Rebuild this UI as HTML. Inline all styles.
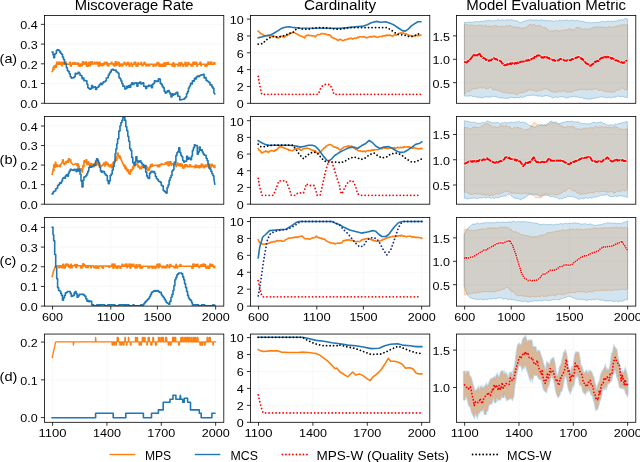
<!DOCTYPE html><html><head><meta charset="utf-8"><style>html,body{margin:0;padding:0;background:#fff;}svg{display:block;will-change:transform;}text{font-family:"Liberation Sans",sans-serif;fill:#000;}</style></head><body>
<svg width="640" height="462" viewBox="0 0 640 462">
<rect width="640" height="462" fill="#fff"/>
<defs><clipPath id="cp00"><rect x="44.40" y="15.45" width="179.40" height="87.85"/></clipPath></defs>
<line x1="44.40" x2="223.80" y1="103.25" y2="103.25" stroke="#f0f0f0" stroke-width="0.8" stroke-dasharray="1.2,0.8"/>
<line x1="44.40" x2="223.80" y1="83.53" y2="83.53" stroke="#f0f0f0" stroke-width="0.8" stroke-dasharray="1.2,0.8"/>
<line x1="44.40" x2="223.80" y1="63.80" y2="63.80" stroke="#f0f0f0" stroke-width="0.8" stroke-dasharray="1.2,0.8"/>
<line x1="44.40" x2="223.80" y1="44.08" y2="44.08" stroke="#f0f0f0" stroke-width="0.8" stroke-dasharray="1.2,0.8"/>
<line x1="44.40" x2="223.80" y1="24.36" y2="24.36" stroke="#f0f0f0" stroke-width="0.8" stroke-dasharray="1.2,0.8"/>
<g clip-path="url(#cp00)">
<polyline fill="none" stroke="#ff7f0e" stroke-width="1.6" stroke-linejoin="round" stroke-linecap="square" points="52.2,71.5 53.0,69.6 53.1,67.6 53.8,67.6 53.9,69.6 53.9,67.7 53.9,66.0 54.7,66.0 54.7,67.7 54.7,65.8 55.7,65.0 55.7,67.1 56.5,67.1 56.5,65.0 56.7,64.3 56.7,62.3 57.5,62.3 57.5,64.3 57.7,64.3 58.6,64.2 58.7,62.1 59.1,62.1 59.2,64.2 59.6,64.2 59.7,62.9 60.4,62.9 60.5,64.2 60.6,64.2 60.7,62.3 61.6,62.3 61.7,64.2 61.6,64.2 61.7,66.0 62.1,66.0 62.2,64.2 62.6,64.2 62.7,62.2 63.4,62.2 63.5,64.2 63.6,64.2 64.6,64.2 64.6,62.1 65.1,62.1 65.1,64.2 65.6,64.2 65.6,62.1 66.1,62.1 66.1,64.2 66.6,64.2 67.6,64.2 68.6,64.2 69.6,64.2 69.6,62.4 70.6,62.4 70.6,64.2 70.5,64.2 70.6,66.3 71.3,66.3 71.4,64.2 71.5,64.2 72.5,64.1 72.6,62.8 73.0,62.8 73.1,64.1 73.5,64.1 74.5,64.1 74.6,62.5 75.5,62.5 75.6,64.1 75.5,64.1 76.5,64.1 77.5,64.1 77.5,62.7 78.0,62.7 78.0,64.1 78.5,64.1 78.5,65.9 79.0,65.9 79.0,64.1 79.5,64.1 79.5,66.2 80.5,66.2 80.5,64.1 80.5,64.1 80.5,65.6 81.5,65.6 81.5,64.1 81.4,64.1 81.5,65.6 82.4,65.6 82.5,64.1 82.4,64.1 82.5,61.9 83.4,61.9 83.5,64.1 83.4,64.1 83.5,62.2 84.4,62.2 84.5,64.1 84.4,64.1 85.4,64.1 85.5,62.0 86.4,62.0 86.5,64.1 86.4,64.1 86.5,66.1 86.9,66.1 87.0,64.1 87.4,64.0 87.4,66.1 88.4,66.1 88.4,64.0 88.4,64.0 88.4,62.4 89.2,62.4 89.2,64.0 89.4,64.0 89.4,65.8 90.4,65.8 90.4,64.0 90.4,64.0 90.4,62.0 91.4,62.0 91.4,64.0 91.4,64.0 91.4,61.9 92.4,61.9 92.4,64.0 92.4,64.0 93.3,64.0 94.3,64.0 94.4,62.1 94.8,62.1 94.9,64.0 95.3,64.0 96.3,64.0 96.4,62.4 97.1,62.4 97.2,64.0 97.3,64.0 97.4,62.4 97.8,62.4 97.9,64.0 98.3,64.0 98.4,66.1 99.3,66.1 99.4,64.0 99.3,64.0 99.3,62.2 100.1,62.2 100.1,64.0 100.3,64.0 100.3,65.5 101.1,65.5 101.1,64.0 101.3,63.9 101.3,65.4 102.3,65.4 102.3,63.9 102.3,63.9 102.3,65.8 102.8,65.8 102.8,63.9 103.3,63.9 103.3,65.3 103.8,65.3 103.8,63.9 104.3,63.9 104.3,62.2 104.8,62.2 104.8,63.9 105.2,63.9 106.2,63.9 106.3,62.2 107.2,62.2 107.3,63.9 107.2,63.9 107.3,65.7 108.0,65.7 108.1,63.9 108.2,63.9 108.3,65.9 108.7,65.9 108.8,63.9 109.2,63.9 110.2,63.9 111.2,63.9 111.2,62.3 112.0,62.3 112.0,63.9 112.2,63.9 113.2,63.9 113.2,65.2 113.7,65.2 113.7,63.9 114.2,63.9 114.2,66.0 115.0,66.0 115.0,63.9 115.2,63.9 115.2,61.7 116.2,61.7 116.2,63.9 116.1,63.9 116.2,65.4 116.6,65.4 116.7,63.9 117.1,64.0 117.2,62.3 117.6,62.3 117.7,64.0 118.1,64.0 118.2,62.3 119.1,62.3 119.2,64.0 119.1,64.0 119.2,66.1 119.9,66.1 120.0,64.0 120.1,64.0 120.2,65.6 121.1,65.6 121.2,64.0 121.1,64.0 122.1,64.0 122.1,66.0 122.9,66.0 122.9,64.0 123.1,64.1 124.1,64.1 124.1,62.2 124.9,62.2 124.9,64.1 125.1,64.1 126.1,64.1 126.1,65.5 126.6,65.5 126.6,64.1 127.1,64.1 127.1,62.6 127.9,62.6 127.9,64.1 128.0,64.2 128.1,62.5 128.8,62.5 128.9,64.2 129.0,64.2 129.1,66.3 130.0,66.3 130.1,64.2 130.0,64.2 131.0,64.2 131.1,62.8 131.5,62.8 131.6,64.2 132.0,64.2 132.1,66.4 132.5,66.4 132.6,64.2 133.0,64.2 134.0,64.3 134.1,62.3 134.8,62.3 134.9,64.3 135.0,64.3 135.0,62.4 135.8,62.4 135.8,64.3 136.0,64.3 136.0,66.0 136.5,66.0 136.5,64.3 137.0,64.3 137.0,66.3 137.8,66.3 137.8,64.3 138.0,64.3 138.0,62.9 138.5,62.9 138.5,64.3 139.0,64.3 140.0,64.3 141.0,64.3 141.0,62.4 141.5,62.4 141.5,64.3 142.0,64.3 142.0,65.8 143.0,65.8 143.0,64.3 143.0,64.3 144.0,64.3 144.0,62.2 145.0,62.2 145.0,64.3 145.0,64.3 146.0,64.3 146.0,66.0 146.5,66.0 146.5,64.3 147.0,64.3 147.0,65.6 147.8,65.6 147.8,64.3 148.0,64.3 149.0,64.3 149.0,65.9 149.5,65.9 149.5,64.3 150.0,64.3 151.0,64.3 152.0,64.3 153.0,64.3 153.0,66.1 154.0,66.1 154.0,64.3 154.0,64.3 155.0,64.3 155.0,65.7 155.5,65.7 155.5,64.3 156.0,64.3 156.0,65.7 156.8,65.7 156.8,64.3 157.0,64.3 157.0,62.9 158.0,62.9 158.0,64.3 158.0,64.3 158.0,62.6 158.8,62.6 158.8,64.3 159.0,64.3 159.0,66.3 160.0,66.3 160.0,64.3 159.9,64.3 160.9,64.3 161.0,66.1 161.9,66.1 162.0,64.3 161.9,64.3 162.9,64.3 163.0,66.3 163.7,66.3 163.8,64.3 163.9,64.3 164.0,62.9 164.4,62.9 164.5,64.3 164.9,64.3 165.0,66.2 165.7,66.2 165.8,64.3 165.9,64.3 166.0,62.8 166.9,62.8 167.0,64.3 166.9,64.3 167.9,64.3 168.0,62.4 168.4,62.4 168.5,64.3 168.9,64.3 169.9,64.3 170.9,64.3 171.9,64.3 172.0,66.0 172.9,66.0 173.0,64.3 172.9,64.3 173.0,62.8 173.9,62.8 174.0,64.3 173.9,64.3 174.0,66.4 174.9,66.4 175.0,64.3 174.9,64.3 175.9,64.3 176.9,64.3 177.9,64.3 178.0,66.0 178.4,66.0 178.5,64.3 178.9,64.3 179.0,62.7 179.4,62.7 179.5,64.3 179.9,64.3 180.0,66.0 180.7,66.0 180.8,64.3 180.9,64.3 181.0,62.5 181.7,62.5 181.8,64.3 181.9,64.3 182.9,64.3 183.0,66.3 183.7,66.3 183.8,64.3 183.9,64.3 184.9,64.3 185.0,62.4 185.9,62.4 186.0,64.3 185.9,64.3 185.9,66.3 186.7,66.3 186.7,64.3 186.9,64.3 186.9,65.7 187.7,65.7 187.7,64.3 187.9,64.3 187.9,62.5 188.9,62.5 188.9,64.3 188.9,64.3 189.9,64.3 190.9,64.3 190.9,65.9 191.9,65.9 191.9,64.3 191.9,64.3 191.9,65.9 192.9,65.9 192.9,64.3 192.9,64.3 192.9,62.4 193.9,62.4 193.9,64.3 193.9,64.3 193.9,62.3 194.9,62.3 194.9,64.3 194.9,64.3 195.9,64.3 195.9,62.2 196.7,62.2 196.7,64.3 196.9,64.3 196.9,66.1 197.4,66.1 197.4,64.3 197.9,64.3 198.9,64.3 199.9,64.3 199.9,62.2 200.9,62.2 200.9,64.3 200.9,64.3 200.9,65.8 201.4,65.8 201.4,64.3 201.9,64.3 202.9,64.3 203.9,64.3 204.9,64.3 204.9,66.1 205.7,66.1 205.7,64.3 205.9,64.3 205.9,66.2 206.4,66.2 206.4,64.3 206.9,64.3 206.9,65.8 207.4,65.8 207.4,64.3 207.9,64.3 207.9,62.1 208.4,62.1 208.4,64.3 208.9,64.3 209.9,64.3 209.9,62.3 210.4,62.3 210.4,64.3 210.9,64.3 210.9,62.1 211.7,62.1 211.7,64.3 211.8,64.3 212.8,64.3 213.8,64.3 213.9,62.6 214.8,62.6 214.9,64.3 214.8,64.3"/>
<polyline fill="none" stroke="#1f77b4" stroke-width="1.6" stroke-linejoin="round" stroke-linecap="square" points="52.2,52.0 53.0,52.0 53.0,54.7 53.7,54.7 53.7,57.7 54.6,57.7 54.6,54.1 55.5,54.1 55.5,53.5 56.4,53.5 56.4,50.6 57.2,50.6 57.2,49.8 58.4,49.8 58.4,50.3 59.6,50.3 59.6,51.9 60.6,51.9 60.6,53.3 61.5,53.3 61.5,54.3 62.5,54.3 62.5,57.1 63.5,57.1 63.5,59.5 64.5,59.5 64.5,63.4 65.4,63.4 65.4,63.7 66.4,63.7 66.4,67.7 67.4,67.7 67.4,70.7 68.4,70.7 68.4,71.6 69.3,71.6 69.3,73.7 70.3,73.7 70.3,76.7 71.3,76.7 71.3,78.1 72.2,78.1 72.2,77.8 73.2,77.8 73.2,77.8 74.2,77.8 74.2,76.8 75.2,76.8 75.2,73.3 76.1,73.3 76.1,74.0 77.1,74.0 77.1,73.8 78.1,73.8 78.1,72.3 79.1,72.3 79.1,73.2 80.0,73.2 80.0,75.2 81.0,75.2 81.0,75.8 82.0,75.8 82.0,78.8 83.0,78.8 83.0,78.0 83.9,78.0 83.9,80.7 84.9,80.7 84.9,80.5 85.9,80.5 85.9,80.7 86.9,80.7 86.9,84.2 87.8,84.2 87.8,87.8 88.8,87.8 88.8,88.6 89.8,88.6 89.8,89.2 90.8,89.2 90.8,88.4 91.7,88.4 91.7,85.6 92.7,85.6 92.7,87.6 93.7,87.6 93.7,87.3 94.6,87.3 94.6,86.9 95.6,86.9 95.6,89.5 96.6,89.5 96.6,87.7 97.6,87.7 97.6,87.3 98.5,87.3 98.5,86.1 99.5,86.1 99.5,84.5 100.5,84.5 100.5,83.4 101.5,83.4 101.5,84.4 102.4,84.4 102.4,83.0 103.4,83.0 103.4,81.9 104.4,81.9 104.4,81.8 105.4,81.8 105.4,80.8 106.3,80.8 106.3,78.0 107.3,78.0 107.3,77.7 108.3,77.7 108.3,75.1 109.3,75.1 109.3,73.3 110.2,73.3 110.2,71.9 111.2,71.9 111.2,69.8 112.2,69.8 112.2,69.2 113.2,69.2 113.2,70.2 114.1,70.2 114.1,70.1 115.1,70.1 115.1,70.0 116.1,70.0 116.1,71.8 117.1,71.8 117.1,72.2 118.0,72.2 118.0,73.3 119.0,73.3 119.0,77.7 120.0,77.7 120.0,78.8 120.9,78.8 120.9,81.0 121.9,81.0 121.9,83.6 122.9,83.6 122.9,86.2 123.9,86.2 123.9,86.0 124.8,86.0 124.8,89.0 125.8,89.0 125.8,88.6 126.8,88.6 126.8,86.3 127.8,86.3 127.8,87.4 128.7,87.4 128.7,85.6 129.7,85.6 129.7,87.2 130.7,87.2 130.7,84.5 131.8,84.5 131.8,82.7 132.9,82.7 132.9,84.4 134.0,84.4 134.0,83.3 135.0,83.3 135.0,82.9 135.9,82.9 135.9,82.9 136.9,82.9 136.9,86.2 137.9,86.2 137.9,83.0 138.9,83.0 138.9,83.2 139.8,83.2 139.8,82.0 140.8,82.0 140.8,83.9 141.8,83.9 141.8,83.5 142.8,83.5 142.8,82.8 143.7,82.8 143.7,86.3 144.7,86.3 144.7,86.4 145.7,86.4 145.7,88.5 146.7,88.5 146.7,86.2 147.6,86.2 147.6,86.5 148.6,86.5 148.6,85.2 149.6,85.2 149.6,85.9 150.6,85.9 150.6,85.3 151.5,85.3 151.5,87.7 152.5,87.7 152.5,84.2 153.5,84.2 153.5,83.2 154.5,83.2 154.5,80.8 155.4,80.8 155.4,81.4 156.4,81.4 156.4,81.0 157.4,81.0 157.4,81.4 158.4,81.4 158.4,78.8 159.3,78.8 159.3,79.1 160.3,79.1 160.3,83.4 161.3,83.4 161.3,84.4 162.2,84.4 162.2,86.4 163.2,86.4 163.2,87.8 164.2,87.8 164.2,91.3 165.2,91.3 165.2,93.1 166.1,93.1 166.1,92.5 167.1,92.5 167.1,91.0 168.1,91.0 168.1,90.5 169.1,90.5 169.1,92.2 170.0,92.2 170.0,93.9 171.0,93.9 171.0,97.0 172.0,97.0 172.0,93.8 173.0,93.8 173.0,95.1 173.9,95.1 173.9,94.0 174.9,94.0 174.9,94.3 175.9,94.3 175.9,92.8 176.9,92.8 176.9,92.4 177.8,92.4 177.8,96.2 178.8,96.2 178.8,96.4 179.8,96.4 179.8,100.0 180.8,100.0 180.8,99.8 181.7,99.8 181.7,99.5 182.7,99.5 182.7,99.2 183.7,99.2 183.7,99.1 184.6,99.1 184.6,98.0 185.6,98.0 185.6,97.0 186.6,97.0 186.6,93.5 187.6,93.5 187.6,91.6 188.5,91.6 188.5,88.0 189.5,88.0 189.5,86.0 190.5,86.0 190.5,83.2 191.5,83.2 191.5,84.0 192.4,84.0 192.4,80.9 193.4,80.9 193.4,81.1 194.4,81.1 194.4,78.4 195.4,78.4 195.4,78.9 196.3,78.9 196.3,77.0 197.3,77.0 197.3,76.1 198.3,76.1 198.3,76.6 199.3,76.6 199.3,75.7 200.2,75.7 200.2,75.2 201.2,75.2 201.2,74.9 202.2,74.9 202.2,74.7 203.2,74.7 203.2,74.3 204.1,74.3 204.1,78.0 205.1,78.0 205.1,77.5 206.1,77.5 206.1,80.4 207.1,80.4 207.1,81.0 208.0,81.0 208.0,81.7 209.0,81.7 209.0,82.6 210.0,82.6 210.0,84.9 210.9,84.9 210.9,84.9 211.9,84.9 211.9,86.9 212.9,86.9 212.9,88.4 213.9,88.4 213.9,92.7 214.8,93.9"/>
</g>
<rect x="44.40" y="15.45" width="179.40" height="87.85" fill="none" stroke="#000" stroke-width="0.8"/>
<line x1="40.90" x2="44.40" y1="103.25" y2="103.25" stroke="#000" stroke-width="0.8"/>
<text x="37.80" y="108.05" font-size="11.66" text-anchor="end" textLength="17.49" lengthAdjust="spacingAndGlyphs">0.0</text>
<line x1="40.90" x2="44.40" y1="83.53" y2="83.53" stroke="#000" stroke-width="0.8"/>
<text x="37.80" y="88.33" font-size="11.66" text-anchor="end" textLength="17.49" lengthAdjust="spacingAndGlyphs">0.1</text>
<line x1="40.90" x2="44.40" y1="63.80" y2="63.80" stroke="#000" stroke-width="0.8"/>
<text x="37.80" y="68.61" font-size="11.66" text-anchor="end" textLength="17.49" lengthAdjust="spacingAndGlyphs">0.2</text>
<line x1="40.90" x2="44.40" y1="44.08" y2="44.08" stroke="#000" stroke-width="0.8"/>
<text x="37.80" y="48.88" font-size="11.66" text-anchor="end" textLength="17.49" lengthAdjust="spacingAndGlyphs">0.3</text>
<line x1="40.90" x2="44.40" y1="24.36" y2="24.36" stroke="#000" stroke-width="0.8"/>
<text x="37.80" y="29.16" font-size="11.66" text-anchor="end" textLength="17.49" lengthAdjust="spacingAndGlyphs">0.4</text>
<defs><clipPath id="cp01"><rect x="250.40" y="15.45" width="179.40" height="87.85"/></clipPath></defs>
<line x1="250.40" x2="429.80" y1="103.30" y2="103.30" stroke="#f0f0f0" stroke-width="0.8" stroke-dasharray="1.2,0.8"/>
<line x1="250.40" x2="429.80" y1="86.46" y2="86.46" stroke="#f0f0f0" stroke-width="0.8" stroke-dasharray="1.2,0.8"/>
<line x1="250.40" x2="429.80" y1="69.62" y2="69.62" stroke="#f0f0f0" stroke-width="0.8" stroke-dasharray="1.2,0.8"/>
<line x1="250.40" x2="429.80" y1="52.78" y2="52.78" stroke="#f0f0f0" stroke-width="0.8" stroke-dasharray="1.2,0.8"/>
<line x1="250.40" x2="429.80" y1="35.94" y2="35.94" stroke="#f0f0f0" stroke-width="0.8" stroke-dasharray="1.2,0.8"/>
<line x1="250.40" x2="429.80" y1="19.10" y2="19.10" stroke="#f0f0f0" stroke-width="0.8" stroke-dasharray="1.2,0.8"/>
<g clip-path="url(#cp01)">
<polyline fill="none" stroke="#ff7f0e" stroke-width="1.6" stroke-linejoin="round" stroke-linecap="square" points="258.2,31.1 259.0,31.6 259.9,32.9 260.7,33.6 261.7,34.0 262.7,34.2 263.6,35.3 264.6,35.6 265.6,35.6 266.6,35.8 267.5,35.6 268.5,35.3 269.5,35.7 270.5,36.1 271.4,35.8 272.4,36.7 273.4,36.3 274.4,36.5 275.3,36.5 276.3,37.7 277.3,37.7 278.2,38.1 279.2,37.4 280.2,36.4 281.2,36.2 282.1,36.6 283.1,36.4 284.1,37.4 285.1,36.3 286.0,35.6 287.0,35.7 288.0,34.4 289.0,34.6 289.9,33.4 290.9,33.2 291.9,32.7 292.9,32.5 293.8,32.5 294.8,32.7 295.8,33.8 296.8,33.7 297.7,34.8 298.7,34.7 299.7,35.8 300.6,36.0 301.6,36.1 302.6,36.7 303.6,37.2 304.5,38.0 305.5,36.2 306.5,35.4 307.5,35.6 308.4,34.9 309.4,35.5 310.4,35.7 311.4,35.5 312.3,35.7 313.3,36.0 314.3,36.1 315.3,36.9 316.2,35.8 317.2,35.0 318.2,34.6 319.2,34.7 320.1,34.5 321.1,33.5 322.1,33.6 323.1,33.8 324.0,34.1 325.0,33.8 326.0,34.4 326.9,34.5 327.9,34.9 328.9,34.8 329.9,35.1 330.8,36.1 331.8,37.4 332.8,37.6 333.8,38.4 334.7,38.6 335.7,38.9 336.7,39.4 337.7,40.6 338.8,40.1 340.0,39.2 341.0,39.8 341.9,40.1 342.9,40.7 343.9,40.4 344.9,39.6 345.8,39.8 346.8,39.5 347.8,38.9 348.8,39.0 349.7,38.3 350.7,38.4 351.7,38.4 352.7,39.2 353.6,38.6 354.6,38.1 355.6,38.5 356.6,38.0 357.5,37.4 358.5,37.6 359.5,36.7 360.5,36.8 361.4,36.8 362.4,37.0 363.4,36.9 364.4,36.8 365.3,37.2 366.3,37.7 367.3,37.7 368.2,37.3 369.2,37.0 370.2,36.6 371.2,37.2 372.1,36.6 373.1,36.6 374.1,36.1 375.1,36.4 376.0,37.2 377.0,37.3 378.0,37.2 379.0,36.8 379.9,36.5 380.9,36.5 381.9,36.6 382.9,35.9 383.8,36.0 384.8,35.6 385.8,35.9 386.8,34.9 387.7,35.4 388.7,35.5 389.7,34.8 390.6,35.5 391.6,35.8 392.6,36.2 393.6,35.6 394.5,34.9 395.5,34.7 396.5,34.9 397.5,34.6 398.4,33.6 399.4,33.3 400.4,33.1 401.4,32.9 402.3,33.2 403.3,32.8 404.3,33.5 405.3,33.7 406.2,33.7 407.2,34.6 408.2,34.9 409.2,35.4 410.1,35.4 411.1,35.7 412.1,36.1 413.1,36.0 414.0,36.1 415.0,35.7 416.0,35.0 416.9,35.6 417.9,35.6 418.9,35.5 419.9,35.4 420.8,35.0"/>
<polyline fill="none" stroke="#1f77b4" stroke-width="1.6" stroke-linejoin="round" stroke-linecap="square" points="258.2,37.8 261.7,37.0 265.6,35.8 269.5,35.4 273.4,33.5 277.3,31.1 281.2,28.6 285.1,27.2 289.0,26.7 291.9,27.2 294.8,27.6 298.7,28.0 340.0,28.2 347.8,27.6 355.6,26.7 363.4,26.1 367.3,24.7 371.2,22.8 376.0,21.4 380.9,22.2 385.8,21.8 390.6,23.4 394.5,25.3 398.4,28.0 402.3,30.6 405.3,31.1 408.2,29.2 411.1,26.1 414.0,24.1 417.9,21.8 420.8,21.8"/>
<polyline fill="none" stroke="#000000" stroke-width="1.8" stroke-linejoin="round" stroke-linecap="round" stroke-dasharray="0.01,3.5" points="258.2,44.2 262.7,43.6 265.6,40.3 269.5,37.8 273.4,36.4 277.3,37.0 281.2,36.4 285.1,35.4 289.0,33.5 292.9,32.5 295.8,29.6 298.7,28.0 302.6,29.2 308.4,29.2 314.3,28.0 320.1,27.6 327.9,28.0 335.7,29.2 340.0,29.2 349.7,27.6 359.5,27.6 369.2,27.6 386.8,27.6 390.6,29.6 394.5,32.5 398.4,34.5 404.3,35.0 408.2,36.4 412.1,36.4 416.9,35.0 420.8,32.5"/>
<polyline fill="none" stroke="#ff0000" stroke-width="1.8" stroke-linejoin="round" stroke-linecap="round" stroke-dasharray="0.01,3.5" points="258.2,76.3 259.7,85.1 261.7,94.3 318.2,94.3 321.1,87.1 324.0,84.5 329.9,84.5 332.8,90.0 333.8,94.3 340.0,94.3 420.8,94.3"/>
</g>
<rect x="250.40" y="15.45" width="179.40" height="87.85" fill="none" stroke="#000" stroke-width="0.8"/>
<line x1="246.90" x2="250.40" y1="103.30" y2="103.30" stroke="#000" stroke-width="0.8"/>
<text x="243.80" y="108.10" font-size="11.66" text-anchor="end" textLength="7.00" lengthAdjust="spacingAndGlyphs">0</text>
<line x1="246.90" x2="250.40" y1="86.46" y2="86.46" stroke="#000" stroke-width="0.8"/>
<text x="243.80" y="91.26" font-size="11.66" text-anchor="end" textLength="7.00" lengthAdjust="spacingAndGlyphs">2</text>
<line x1="246.90" x2="250.40" y1="69.62" y2="69.62" stroke="#000" stroke-width="0.8"/>
<text x="243.80" y="74.42" font-size="11.66" text-anchor="end" textLength="7.00" lengthAdjust="spacingAndGlyphs">4</text>
<line x1="246.90" x2="250.40" y1="52.78" y2="52.78" stroke="#000" stroke-width="0.8"/>
<text x="243.80" y="57.58" font-size="11.66" text-anchor="end" textLength="7.00" lengthAdjust="spacingAndGlyphs">6</text>
<line x1="246.90" x2="250.40" y1="35.94" y2="35.94" stroke="#000" stroke-width="0.8"/>
<text x="243.80" y="40.74" font-size="11.66" text-anchor="end" textLength="7.00" lengthAdjust="spacingAndGlyphs">8</text>
<line x1="246.90" x2="250.40" y1="19.10" y2="19.10" stroke="#000" stroke-width="0.8"/>
<text x="243.80" y="23.90" font-size="11.66" text-anchor="end" textLength="14.00" lengthAdjust="spacingAndGlyphs">10</text>
<defs><clipPath id="cp02"><rect x="456.50" y="15.45" width="179.30" height="87.85"/></clipPath></defs>
<line x1="456.50" x2="635.80" y1="82.70" y2="82.70" stroke="#f0f0f0" stroke-width="0.8" stroke-dasharray="1.2,0.8"/>
<line x1="456.50" x2="635.80" y1="59.30" y2="59.30" stroke="#f0f0f0" stroke-width="0.8" stroke-dasharray="1.2,0.8"/>
<line x1="456.50" x2="635.80" y1="35.90" y2="35.90" stroke="#f0f0f0" stroke-width="0.8" stroke-dasharray="1.2,0.8"/>
<g clip-path="url(#cp02)">
<polygon fill="rgba(255,127,14,0.2)" stroke="rgba(255,127,14,0.32)" stroke-width="1.0" points="464.4,24.7 465.6,24.1 466.8,24.4 468.1,25.0 469.3,25.6 470.5,24.9 471.7,25.0 472.9,25.4 474.1,26.1 475.3,25.1 476.5,26.0 477.7,25.8 478.9,24.8 480.1,25.4 481.3,25.2 482.5,25.3 483.7,26.4 484.9,25.2 486.1,25.3 487.3,27.0 488.5,26.3 489.8,26.2 490.9,26.2 492.0,26.1 493.1,26.9 494.2,25.5 495.4,25.4 496.6,26.1 497.8,26.1 499.0,26.9 500.2,26.8 501.4,26.2 502.6,26.1 503.8,27.2 504.9,27.2 506.1,25.3 507.2,26.2 508.3,26.1 509.4,25.5 510.6,25.2 511.7,26.6 512.8,27.0 513.9,26.6 515.1,27.7 516.2,27.2 517.3,27.0 518.4,27.6 519.6,27.7 520.7,27.9 521.8,28.0 522.9,28.0 524.1,28.0 525.2,27.7 526.3,27.4 527.4,26.6 528.4,25.2 529.5,24.5 530.5,24.6 531.6,24.7 532.6,25.1 533.7,24.4 534.8,24.8 535.9,26.0 537.0,25.6 538.1,25.9 539.2,25.1 540.4,25.7 541.5,26.9 542.6,27.0 543.8,27.9 544.9,27.1 546.0,28.0 547.1,29.4 548.1,29.7 549.2,31.1 550.2,31.5 551.3,30.7 552.3,30.5 553.4,31.8 554.4,30.3 555.6,30.3 556.8,30.5 558.1,31.0 559.3,31.1 560.5,30.4 561.7,30.4 562.9,30.8 564.0,29.8 565.1,29.8 566.2,30.0 567.4,29.9 568.5,28.7 569.6,28.8 570.8,28.9 571.9,29.8 573.0,29.8 574.1,30.2 575.2,29.2 576.2,27.7 577.3,27.8 578.3,27.4 579.8,27.8 581.2,28.7 582.3,29.3 583.5,29.1 584.7,29.0 585.8,28.7 587.0,28.9 588.2,30.1 589.3,28.4 590.4,28.9 591.6,27.8 592.7,27.4 593.8,28.0 594.9,27.0 596.1,26.7 597.2,26.9 598.3,27.1 599.4,26.7 600.6,27.4 601.7,26.8 602.8,27.2 603.9,27.7 605.1,27.4 606.3,27.7 607.5,27.2 608.7,26.6 609.9,26.4 611.1,27.4 612.3,27.2 613.5,27.4 614.7,26.8 615.9,26.4 617.1,25.5 618.3,26.4 619.5,25.0 620.7,25.3 621.9,24.7 623.1,24.9 624.2,24.7 625.3,24.8 626.4,25.1 627.6,24.7 627.4,89.8 626.3,89.1 625.2,90.0 624.2,89.7 623.1,88.2 622.0,87.7 620.8,88.8 619.7,90.1 618.6,89.8 617.5,89.4 616.3,91.0 615.2,91.6 614.1,92.2 612.9,91.8 611.8,92.9 610.7,92.0 609.5,91.8 608.4,92.2 607.3,91.5 606.2,92.1 605.0,90.5 603.9,91.7 602.8,90.6 601.6,90.3 600.5,89.7 599.4,90.5 598.2,90.4 597.1,89.3 596.0,88.8 594.9,89.1 593.7,89.6 592.6,89.6 591.5,89.8 590.5,90.2 589.4,88.9 588.3,89.3 587.1,90.4 586.0,88.8 584.9,89.9 583.8,89.1 582.6,89.8 581.5,89.3 580.4,89.6 579.2,90.0 578.1,89.2 577.0,90.5 575.8,90.7 574.7,90.3 573.6,91.3 572.5,91.6 571.3,92.4 569.9,91.6 568.4,91.9 567.3,92.3 566.2,92.1 565.1,90.8 564.0,91.3 562.9,91.3 561.8,91.1 560.7,92.1 559.6,91.1 558.4,91.5 557.3,92.3 556.2,91.8 555.0,92.4 553.9,92.4 552.8,91.8 551.6,91.4 550.5,91.4 549.4,89.8 548.3,90.2 547.1,89.1 546.0,88.4 544.9,89.0 543.7,89.2 542.6,89.6 541.5,90.2 540.4,90.5 539.2,90.1 538.1,91.1 537.0,91.0 535.8,91.7 534.7,90.5 533.6,90.3 532.4,90.2 531.3,90.2 530.2,89.8 529.1,89.1 527.7,91.1 526.3,91.2 525.2,91.4 524.1,92.6 522.9,92.3 521.8,93.0 520.7,92.7 519.6,92.5 518.5,93.6 517.5,94.9 516.4,94.5 515.0,93.8 513.7,93.5 512.3,92.9 511.2,93.3 510.0,93.5 508.9,93.1 507.8,92.9 506.6,93.1 505.5,93.0 504.4,91.9 503.3,92.9 502.1,91.8 501.0,91.4 499.9,91.4 498.7,90.6 497.6,90.4 496.5,90.1 495.4,90.0 494.2,89.4 493.1,90.2 492.0,88.2 490.8,87.6 489.7,87.2 488.6,88.5 487.4,88.5 486.3,88.7 485.2,88.6 484.1,87.6 482.9,87.7 481.8,88.5 480.7,87.1 479.5,87.6 478.4,88.2 477.3,88.7 476.2,88.3 475.1,89.1 474.0,88.9 472.9,88.6 471.8,90.1 470.7,90.3 469.6,91.5 468.4,91.1 467.3,91.5 465.8,92.6 464.4,94.6"/>
<polygon fill="rgba(31,119,180,0.2)" stroke="rgba(31,119,180,0.3)" stroke-width="1.0" points="464.4,22.4 465.7,22.4 466.9,22.4 468.1,22.6 469.4,21.8 470.6,22.2 471.8,22.4 473.1,22.3 474.3,21.4 475.5,21.8 476.7,21.7 478.0,21.5 479.2,21.9 480.4,21.3 481.7,21.1 482.9,21.7 484.1,21.2 485.3,20.7 486.5,20.7 487.6,20.8 488.8,20.2 490.0,20.8 491.2,20.9 492.3,20.5 493.5,20.9 494.7,20.9 495.8,20.4 497.0,20.5 498.2,19.7 499.4,19.7 500.5,20.8 501.7,19.9 502.9,19.8 504.0,20.7 505.2,20.5 506.4,19.7 507.6,20.0 508.7,19.9 509.9,19.9 511.1,19.6 512.2,20.2 513.5,20.3 514.7,20.7 515.9,20.8 517.1,21.0 518.3,21.2 519.5,22.6 520.7,22.7 521.9,22.2 523.1,21.3 524.3,21.1 525.5,20.7 526.7,20.6 527.9,20.0 529.1,19.9 530.4,19.8 531.6,19.8 532.9,20.4 534.1,20.1 535.4,20.2 536.6,20.0 537.9,20.2 539.1,20.5 540.4,20.0 541.5,19.7 542.7,20.3 543.9,20.3 545.1,20.8 546.2,20.1 547.4,21.1 548.6,20.1 549.8,20.8 550.9,20.8 552.1,20.7 553.3,21.4 554.4,21.3 555.6,20.6 556.8,20.9 558.0,21.0 559.1,20.2 560.3,20.2 561.5,20.7 562.6,20.8 563.8,20.4 565.0,20.3 566.2,20.3 567.3,20.0 568.5,20.6 569.8,20.8 571.0,20.4 572.2,19.9 573.5,20.4 574.8,21.0 576.0,20.5 577.2,20.4 578.5,20.6 579.8,21.3 581.0,21.3 582.2,21.1 583.5,21.6 584.8,22.0 586.0,22.4 587.2,22.4 588.5,22.0 589.8,22.7 591.0,22.9 592.2,22.8 593.5,22.6 594.8,22.4 596.0,22.2 597.2,22.5 598.5,22.2 599.8,22.3 601.0,21.6 602.2,21.4 603.5,21.5 604.8,21.8 606.0,21.7 607.2,21.1 608.5,21.0 609.8,21.9 611.0,20.7 612.2,21.6 613.5,21.4 614.8,20.9 616.0,21.2 617.2,20.6 618.5,19.6 619.8,20.5 621.0,19.6 622.2,20.0 623.5,19.7 624.8,18.6 626.2,18.5 627.6,19.1 627.4,97.6 626.3,97.3 625.2,97.4 624.2,97.2 623.1,96.2 622.0,96.4 620.8,96.5 619.7,96.7 618.6,96.2 617.5,96.2 616.3,96.9 615.2,97.2 614.0,97.3 612.8,97.0 611.6,97.9 610.5,97.9 609.3,97.2 608.1,97.4 607.0,97.7 605.8,97.8 604.6,96.8 603.5,97.5 602.3,96.7 601.1,96.6 599.8,97.1 598.6,97.5 597.4,97.6 596.2,97.8 595.0,98.1 593.7,98.4 592.6,98.6 591.4,99.0 590.2,98.9 589.1,99.2 587.9,99.1 586.7,99.2 585.6,98.4 584.5,98.7 583.3,98.2 582.2,97.8 581.1,97.1 579.9,97.9 578.7,97.5 577.6,96.7 576.4,97.2 575.2,97.0 574.1,95.8 572.9,97.0 571.7,96.9 570.5,96.6 569.4,97.4 568.2,97.4 567.0,98.0 565.9,98.0 564.7,97.3 563.5,96.9 562.4,96.5 561.2,97.0 560.0,96.5 558.9,97.1 557.7,97.6 556.5,96.9 555.4,97.1 554.2,97.3 553.0,97.9 551.8,97.5 550.7,96.6 549.5,96.3 548.3,96.4 547.2,95.3 546.0,95.9 544.9,95.7 543.7,96.3 542.6,96.2 541.5,96.5 540.4,96.2 539.2,95.8 538.0,96.5 536.8,95.5 535.7,95.6 534.5,95.6 533.3,95.0 532.2,95.3 531.0,95.2 529.8,95.6 528.7,95.6 527.5,95.8 526.3,95.8 525.2,96.4 524.0,96.6 522.8,97.5 521.6,97.4 520.5,96.9 519.3,98.0 518.1,97.4 517.0,97.9 515.8,97.5 514.6,97.9 513.5,98.1 512.3,97.3 511.1,97.2 510.0,97.6 508.8,98.3 507.6,98.4 506.5,98.3 505.3,98.7 504.1,97.9 502.9,98.0 501.8,97.8 500.6,97.9 499.4,97.8 498.3,97.6 497.1,96.9 496.0,96.8 494.9,96.5 493.8,96.6 492.6,96.3 491.4,96.9 490.2,97.0 488.9,97.2 487.7,97.0 486.5,96.9 485.3,96.9 484.1,97.1 482.9,97.9 481.7,97.9 480.5,97.7 479.4,97.3 478.2,97.2 477.0,97.6 475.9,96.7 474.7,96.6 473.5,96.4 472.4,96.7 471.2,95.6 470.0,95.9 468.9,96.1 467.8,96.2 466.6,96.0 465.5,96.1 464.4,96.2"/>
<polyline fill="none" stroke="rgba(255,255,255,0.45)" stroke-width="3.4" stroke-linejoin="round" stroke-linecap="square" points="464.2,61.7 465.0,62.0 465.9,62.4 466.7,62.6 467.4,62.1 468.2,60.8 468.9,61.0 469.6,59.9 470.4,59.1 471.2,58.1 472.0,57.4 472.8,55.6 473.5,54.7 474.3,55.3 475.0,55.2 475.7,55.5 476.5,55.1 477.2,55.5 477.9,54.0 478.6,54.5 479.4,53.8 480.1,54.3 480.8,56.1 481.6,56.3 482.3,57.5 483.0,58.0 483.8,58.1 484.5,58.5 485.2,58.7 486.0,60.0 486.7,59.5 487.4,60.0 488.1,60.2 488.9,61.0 489.6,60.3 490.3,60.4 491.1,60.3 491.8,59.4 492.5,59.0 493.3,58.6 494.0,58.1 494.7,58.7 495.4,59.4 496.2,59.0 496.9,59.5 497.6,60.1 498.4,60.4 499.1,60.6 499.8,60.8 500.6,61.1 501.5,62.2 502.3,63.6 503.1,63.9 503.9,65.0 504.7,65.3 505.5,65.3 506.3,64.5 507.0,64.8 507.8,64.4 508.6,63.1 509.4,63.9 510.3,63.2 511.1,64.2 511.9,63.3 512.8,63.2 513.6,64.1 514.4,63.8 515.2,62.9 516.0,63.2 516.8,63.5 517.6,62.5 518.3,63.0 519.1,62.3 519.9,62.2 520.7,62.0 521.5,61.4 522.2,61.6 523.0,61.6 523.8,61.5 524.6,61.2 525.4,60.6 526.1,60.9 526.9,60.3 527.7,60.8 528.5,59.7 529.2,60.3 530.0,59.3 530.8,59.5 531.6,58.8 532.4,58.6 533.1,58.4 533.9,58.2 534.7,56.7 535.5,57.3 536.4,56.6 537.2,55.4 538.0,55.6 538.8,55.3 539.5,55.5 540.3,56.8 541.0,56.7 541.7,57.8 542.6,57.3 543.4,57.8 544.3,57.0 545.1,56.8 546.0,57.5 546.8,57.1 547.6,57.6 548.4,58.3 549.2,58.0 550.1,59.2 550.9,59.4 551.7,59.4 552.5,60.1 553.3,60.4 554.1,59.8 554.9,61.0 555.7,60.8 556.6,60.8 557.4,60.4 558.2,60.5 559.0,60.0 559.8,59.1 560.6,58.8 561.4,59.3 562.2,59.4 563.0,59.6 563.9,60.3 564.7,60.5 565.5,60.6 566.3,60.9 567.2,60.1 568.0,60.3 568.8,60.1 569.7,60.2 570.5,60.4 571.3,59.9 572.1,58.9 572.9,59.2 573.8,58.6 574.6,58.4 575.4,58.2 576.2,57.5 576.9,57.9 577.7,57.2 578.4,56.9 579.1,56.9 579.9,56.9 580.7,57.8 581.5,59.2 582.2,58.7 583.0,59.6 583.7,60.8 584.5,61.2 585.2,62.1 585.9,63.1 586.7,63.7 587.4,63.8 588.2,64.3 588.9,64.5 589.7,65.9 590.4,65.8 591.3,65.4 592.1,64.2 593.0,64.2 593.8,63.0 594.7,61.8 595.5,62.1 596.3,61.2 597.0,61.2 597.8,60.8 598.6,61.1 599.3,60.1 600.1,58.9 600.8,58.4 601.5,57.8 602.2,58.1 603.0,57.4 603.7,57.7 604.4,56.7 605.2,56.8 606.0,57.6 606.8,57.1 607.6,56.7 608.3,56.9 609.1,57.4 609.9,57.2 610.7,57.8 611.5,58.8 612.2,57.9 613.0,58.6 613.8,59.0 614.6,59.2 615.4,60.5 616.1,60.1 616.9,60.4 617.7,61.1 618.5,61.0 619.2,61.9 620.0,61.9 620.8,62.4 621.6,62.0 622.4,63.0 623.1,62.6 623.9,62.9 624.8,61.8 625.7,61.0 626.6,60.6 627.4,60.4"/>
<polyline fill="none" stroke="#ff0000" stroke-width="1.9" stroke-linejoin="round" stroke-linecap="butt" stroke-dasharray="6,0.7" points="464.2,61.7 465.0,62.0 465.9,62.4 466.7,62.6 467.4,62.1 468.2,60.8 468.9,61.0 469.6,59.9 470.4,59.1 471.2,58.1 472.0,57.4 472.8,55.6 473.5,54.7 474.3,55.3 475.0,55.2 475.7,55.5 476.5,55.1 477.2,55.5 477.9,54.0 478.6,54.5 479.4,53.8 480.1,54.3 480.8,56.1 481.6,56.3 482.3,57.5 483.0,58.0 483.8,58.1 484.5,58.5 485.2,58.7 486.0,60.0 486.7,59.5 487.4,60.0 488.1,60.2 488.9,61.0 489.6,60.3 490.3,60.4 491.1,60.3 491.8,59.4 492.5,59.0 493.3,58.6 494.0,58.1 494.7,58.7 495.4,59.4 496.2,59.0 496.9,59.5 497.6,60.1 498.4,60.4 499.1,60.6 499.8,60.8 500.6,61.1 501.5,62.2 502.3,63.6 503.1,63.9 503.9,65.0 504.7,65.3 505.5,65.3 506.3,64.5 507.0,64.8 507.8,64.4 508.6,63.1 509.4,63.9 510.3,63.2 511.1,64.2 511.9,63.3 512.8,63.2 513.6,64.1 514.4,63.8 515.2,62.9 516.0,63.2 516.8,63.5 517.6,62.5 518.3,63.0 519.1,62.3 519.9,62.2 520.7,62.0 521.5,61.4 522.2,61.6 523.0,61.6 523.8,61.5 524.6,61.2 525.4,60.6 526.1,60.9 526.9,60.3 527.7,60.8 528.5,59.7 529.2,60.3 530.0,59.3 530.8,59.5 531.6,58.8 532.4,58.6 533.1,58.4 533.9,58.2 534.7,56.7 535.5,57.3 536.4,56.6 537.2,55.4 538.0,55.6 538.8,55.3 539.5,55.5 540.3,56.8 541.0,56.7 541.7,57.8 542.6,57.3 543.4,57.8 544.3,57.0 545.1,56.8 546.0,57.5 546.8,57.1 547.6,57.6 548.4,58.3 549.2,58.0 550.1,59.2 550.9,59.4 551.7,59.4 552.5,60.1 553.3,60.4 554.1,59.8 554.9,61.0 555.7,60.8 556.6,60.8 557.4,60.4 558.2,60.5 559.0,60.0 559.8,59.1 560.6,58.8 561.4,59.3 562.2,59.4 563.0,59.6 563.9,60.3 564.7,60.5 565.5,60.6 566.3,60.9 567.2,60.1 568.0,60.3 568.8,60.1 569.7,60.2 570.5,60.4 571.3,59.9 572.1,58.9 572.9,59.2 573.8,58.6 574.6,58.4 575.4,58.2 576.2,57.5 576.9,57.9 577.7,57.2 578.4,56.9 579.1,56.9 579.9,56.9 580.7,57.8 581.5,59.2 582.2,58.7 583.0,59.6 583.7,60.8 584.5,61.2 585.2,62.1 585.9,63.1 586.7,63.7 587.4,63.8 588.2,64.3 588.9,64.5 589.7,65.9 590.4,65.8 591.3,65.4 592.1,64.2 593.0,64.2 593.8,63.0 594.7,61.8 595.5,62.1 596.3,61.2 597.0,61.2 597.8,60.8 598.6,61.1 599.3,60.1 600.1,58.9 600.8,58.4 601.5,57.8 602.2,58.1 603.0,57.4 603.7,57.7 604.4,56.7 605.2,56.8 606.0,57.6 606.8,57.1 607.6,56.7 608.3,56.9 609.1,57.4 609.9,57.2 610.7,57.8 611.5,58.8 612.2,57.9 613.0,58.6 613.8,59.0 614.6,59.2 615.4,60.5 616.1,60.1 616.9,60.4 617.7,61.1 618.5,61.0 619.2,61.9 620.0,61.9 620.8,62.4 621.6,62.0 622.4,63.0 623.1,62.6 623.9,62.9 624.8,61.8 625.7,61.0 626.6,60.6 627.4,60.4"/>
</g>
<rect x="456.50" y="15.45" width="179.30" height="87.85" fill="none" stroke="#000" stroke-width="0.8"/>
<line x1="453.00" x2="456.50" y1="82.70" y2="82.70" stroke="#000" stroke-width="0.8"/>
<text x="449.90" y="87.50" font-size="11.66" text-anchor="end" textLength="17.49" lengthAdjust="spacingAndGlyphs">0.5</text>
<line x1="453.00" x2="456.50" y1="59.30" y2="59.30" stroke="#000" stroke-width="0.8"/>
<text x="449.90" y="64.10" font-size="11.66" text-anchor="end" textLength="17.49" lengthAdjust="spacingAndGlyphs">1.0</text>
<line x1="453.00" x2="456.50" y1="35.90" y2="35.90" stroke="#000" stroke-width="0.8"/>
<text x="449.90" y="40.70" font-size="11.66" text-anchor="end" textLength="17.49" lengthAdjust="spacingAndGlyphs">1.5</text>
<defs><clipPath id="cp10"><rect x="44.40" y="116.50" width="179.40" height="87.70"/></clipPath></defs>
<line x1="44.40" x2="223.80" y1="204.20" y2="204.20" stroke="#f0f0f0" stroke-width="0.8" stroke-dasharray="1.2,0.8"/>
<line x1="44.40" x2="223.80" y1="184.65" y2="184.65" stroke="#f0f0f0" stroke-width="0.8" stroke-dasharray="1.2,0.8"/>
<line x1="44.40" x2="223.80" y1="165.10" y2="165.10" stroke="#f0f0f0" stroke-width="0.8" stroke-dasharray="1.2,0.8"/>
<line x1="44.40" x2="223.80" y1="145.55" y2="145.55" stroke="#f0f0f0" stroke-width="0.8" stroke-dasharray="1.2,0.8"/>
<line x1="44.40" x2="223.80" y1="126.00" y2="126.00" stroke="#f0f0f0" stroke-width="0.8" stroke-dasharray="1.2,0.8"/>
<g clip-path="url(#cp10)">
<polyline fill="none" stroke="#ff7f0e" stroke-width="1.6" stroke-linejoin="round" stroke-linecap="square" points="52.2,174.4 53.0,170.5 53.0,169.0 54.0,169.0 54.0,170.5 53.7,166.6 53.8,164.9 54.5,164.9 54.6,166.6 54.5,165.2 54.6,167.2 55.3,167.2 55.4,165.2 55.3,163.7 55.3,162.2 55.8,162.2 55.8,163.7 56.5,164.7 56.5,166.6 57.3,166.6 57.3,164.7 57.6,165.6 58.6,166.1 59.6,166.6 59.6,165.0 60.4,165.0 60.4,166.6 60.6,165.0 61.5,163.4 62.5,161.8 62.6,159.8 63.3,159.8 63.4,161.8 63.5,163.2 64.5,164.7 65.4,163.4 65.5,161.8 65.9,161.8 66.0,163.4 66.4,162.1 67.4,160.8 67.4,162.2 68.4,162.2 68.4,160.8 68.4,160.3 68.4,158.9 69.4,158.9 69.4,160.3 69.3,159.8 70.3,161.3 70.3,159.7 70.8,159.7 70.8,161.3 71.3,162.7 72.2,163.7 73.2,164.7 74.2,164.4 75.2,164.0 76.1,163.7 77.1,165.6 77.2,163.7 78.1,163.7 78.2,165.6 78.1,167.6 78.1,166.2 79.1,166.2 79.1,167.6 79.1,169.5 79.1,171.1 80.1,171.1 80.1,169.5 80.0,169.9 81.0,170.2 81.1,168.7 81.5,168.7 81.6,170.2 82.0,170.5 82.0,172.1 82.5,172.1 82.5,170.5 83.0,166.6 83.0,165.4 84.0,165.4 84.0,166.6 83.9,162.7 84.0,160.8 84.7,160.8 84.8,162.7 84.9,162.2 85.0,160.8 85.4,160.8 85.5,162.2 85.9,161.8 85.9,159.8 86.7,159.8 86.7,161.8 86.9,162.7 86.9,164.5 87.7,164.5 87.7,162.7 87.8,163.7 87.9,161.8 88.6,161.8 88.7,163.7 88.8,164.7 88.9,163.2 89.8,163.2 89.9,164.7 89.8,165.0 90.8,165.3 90.8,163.5 91.6,163.5 91.6,165.3 91.7,165.6 91.8,164.3 92.5,164.3 92.6,165.6 92.7,165.3 92.8,166.8 93.5,166.8 93.6,165.3 93.7,165.0 93.7,166.7 94.2,166.7 94.2,165.0 94.6,164.7 94.7,163.4 95.6,163.4 95.7,164.7 95.6,163.7 95.7,165.4 96.4,165.4 96.5,163.7 96.6,162.7 96.6,164.3 97.6,164.3 97.6,162.7 97.6,161.8 97.6,159.8 98.4,159.8 98.4,161.8 98.5,163.4 98.6,165.1 99.0,165.1 99.1,163.4 99.5,165.0 99.6,166.5 100.5,166.5 100.6,165.0 100.5,166.6 100.5,165.3 101.0,165.3 101.0,166.6 101.5,166.0 102.4,165.3 103.4,164.7 103.5,163.0 104.2,163.0 104.3,164.7 104.4,164.4 104.4,165.9 105.4,165.9 105.4,164.4 105.4,164.0 105.4,162.1 106.4,162.1 106.4,164.0 106.3,163.7 107.3,164.7 107.4,163.3 108.1,163.3 108.2,164.7 108.3,165.6 109.3,166.6 109.3,165.2 109.8,165.2 109.8,166.6 110.2,166.3 110.3,164.8 111.2,164.8 111.3,166.3 111.2,166.0 111.3,167.8 112.2,167.8 112.3,166.0 112.2,165.6 112.2,164.0 113.0,164.0 113.0,165.6 113.2,163.7 113.2,162.3 114.0,162.3 114.0,163.7 114.1,161.8 114.2,163.4 114.6,163.4 114.7,161.8 115.1,159.8 115.9,158.2 116.0,160.1 116.9,160.1 117.0,158.2 116.8,156.6 117.6,154.9 117.7,153.0 118.1,153.0 118.2,154.9 118.8,155.9 118.9,157.7 119.8,157.7 119.9,155.9 120.0,156.9 120.0,158.4 120.5,158.4 120.5,156.9 120.9,159.2 121.9,161.4 122.9,163.7 123.9,165.0 123.9,166.2 124.9,166.2 124.9,165.0 124.8,166.3 124.9,168.2 125.6,168.2 125.7,166.3 125.8,167.6 125.9,169.4 126.3,169.4 126.4,167.6 126.8,169.5 126.8,170.8 127.8,170.8 127.8,169.5 127.8,171.5 127.8,169.8 128.6,169.8 128.6,171.5 128.7,173.4 128.8,171.8 129.2,171.8 129.3,173.4 129.7,172.5 129.8,174.1 130.2,174.1 130.3,172.5 130.7,171.5 130.7,169.6 131.2,169.6 131.2,171.5 131.7,170.5 132.8,168.6 132.9,166.7 133.3,166.7 133.4,168.6 134.0,166.6 135.0,165.6 135.0,164.0 135.5,164.0 135.5,165.6 135.9,164.7 136.0,163.5 136.4,163.5 136.5,164.7 136.9,163.7 137.9,165.3 137.9,166.9 138.4,166.9 138.4,165.3 138.9,166.9 139.8,168.6 139.9,167.1 140.6,167.1 140.7,168.6 140.8,167.3 140.9,168.8 141.6,168.8 141.7,167.3 141.8,166.0 141.8,167.4 142.3,167.4 142.3,166.0 142.8,164.7 142.8,166.5 143.3,166.5 143.3,164.7 143.7,165.6 143.8,167.2 144.7,167.2 144.8,165.6 144.7,166.6 145.7,167.6 145.7,165.9 146.5,165.9 146.5,167.6 146.7,169.1 146.7,167.3 147.5,167.3 147.5,169.1 147.6,170.5 147.7,169.0 148.1,169.0 148.2,170.5 148.6,168.6 148.7,170.2 149.4,170.2 149.5,168.6 149.6,166.6 149.6,167.8 150.4,167.8 150.4,166.6 150.6,166.4 150.6,164.5 151.4,164.5 151.4,166.4 151.5,166.1 151.6,164.2 152.5,164.2 152.6,166.1 152.5,165.9 153.5,165.6 154.5,165.5 155.4,165.4 156.4,165.3 157.4,165.2 157.4,166.8 157.9,166.8 157.9,165.2 158.4,165.0 158.4,166.6 159.4,166.6 159.4,165.0 159.3,164.9 159.4,166.8 159.8,166.8 159.9,164.9 160.3,164.8 161.3,164.7 161.3,163.5 161.8,163.5 161.8,164.7 162.2,164.5 163.2,164.4 164.2,164.2 165.2,164.0 165.2,162.8 166.2,162.8 166.2,164.0 166.1,163.9 166.2,162.6 167.1,162.6 167.2,163.9 167.1,163.7 167.2,162.1 168.1,162.1 168.2,163.7 168.1,163.7 168.1,165.7 169.1,165.7 169.1,163.7 169.1,163.7 169.1,161.9 169.9,161.9 169.9,163.7 170.0,163.7 170.1,161.8 171.0,161.8 171.1,163.7 171.0,163.7 171.1,165.3 171.8,165.3 171.9,163.7 172.0,163.7 173.0,163.7 173.9,164.0 174.0,162.4 174.9,162.4 175.0,164.0 174.9,164.4 175.9,164.7 175.9,166.6 176.4,166.6 176.4,164.7 176.9,165.0 176.9,163.1 177.9,163.1 177.9,165.0 177.8,165.3 178.8,165.6 178.9,164.3 179.3,164.3 179.4,165.6 179.8,165.8 179.8,163.9 180.8,163.9 180.8,165.8 180.8,166.0 180.8,164.2 181.6,164.2 181.6,166.0 181.7,166.1 181.8,164.1 182.2,164.1 182.3,166.1 182.7,166.3 182.8,168.1 183.2,168.1 183.3,166.3 183.7,166.5 183.7,167.9 184.2,167.9 184.2,166.5 184.6,166.6 184.7,164.9 185.1,164.9 185.2,166.6 185.6,166.6 185.7,164.8 186.6,164.8 186.7,166.6 186.6,166.6 186.6,165.4 187.4,165.4 187.4,166.6 187.6,166.6 188.5,166.6 189.5,166.6 189.6,164.7 190.5,164.7 190.6,166.6 190.5,166.6 191.5,166.6 192.4,166.6 193.4,166.5 194.4,166.4 194.4,167.8 194.9,167.8 194.9,166.4 195.4,166.3 195.4,165.0 196.2,165.0 196.2,166.3 196.3,166.1 196.4,167.5 196.8,167.5 196.9,166.1 197.3,166.0 198.3,165.9 198.3,167.8 199.1,167.8 199.1,165.9 199.3,165.8 199.3,167.6 200.1,167.6 200.1,165.8 200.2,165.6 200.3,167.2 201.0,167.2 201.1,165.6 201.2,165.8 201.3,164.0 202.0,164.0 202.1,165.8 202.2,166.0 202.2,164.7 203.0,164.7 203.0,166.0 203.2,166.1 203.2,167.7 204.2,167.7 204.2,166.1 204.1,166.3 205.1,166.5 205.2,165.0 205.9,165.0 206.0,166.5 206.1,166.6 207.1,166.5 207.1,164.8 207.9,164.8 207.9,166.5 208.0,166.4 208.1,164.9 209.0,164.9 209.1,166.4 209.0,166.3 209.1,167.9 209.8,167.9 209.9,166.3 210.0,166.2 210.0,168.0 211.0,168.0 211.0,166.2 210.9,166.1 211.0,164.4 211.4,164.4 211.5,166.1 211.9,166.0 212.0,164.4 212.4,164.4 212.5,166.0 212.9,165.9 213.9,165.8 213.9,167.5 214.9,167.5 214.9,165.8 214.8,165.6"/>
<polyline fill="none" stroke="#1f77b4" stroke-width="1.6" stroke-linejoin="round" stroke-linecap="square" points="52.2,193.9 53.0,193.9 53.0,192.1 53.9,192.1 53.9,191.2 54.7,191.2 54.7,191.0 55.7,191.0 55.7,188.7 56.7,188.7 56.7,188.2 57.6,188.2 57.6,185.5 58.6,185.5 58.6,184.6 59.6,184.6 59.6,182.8 60.6,182.8 60.6,183.1 61.5,183.1 61.5,181.0 62.5,181.0 62.5,178.5 63.5,178.5 63.5,177.5 64.5,177.5 64.5,178.3 65.4,178.3 65.4,176.0 66.4,176.0 66.4,174.8 67.4,174.8 67.4,176.1 68.4,176.1 68.4,173.1 69.3,173.1 69.3,171.1 70.3,171.1 70.3,169.2 71.3,169.2 71.3,169.9 72.2,169.9 72.2,170.1 73.2,170.1 73.2,170.5 74.2,170.5 74.2,169.3 75.2,169.3 75.2,169.7 76.1,169.7 76.1,171.6 77.1,171.6 77.1,169.1 78.1,169.1 78.1,171.0 79.1,171.0 79.1,169.0 80.0,169.0 80.0,174.3 81.0,174.3 81.0,180.9 82.0,180.9 82.0,186.9 83.0,186.9 83.0,180.3 83.9,180.3 83.9,177.1 84.9,177.1 84.9,176.6 85.9,176.6 85.9,175.6 86.9,175.6 86.9,173.6 87.8,173.6 87.8,171.2 88.8,171.2 88.8,167.5 89.8,167.5 89.8,166.0 90.8,166.0 90.8,167.3 91.7,167.3 91.7,166.5 92.7,166.5 92.7,166.0 93.7,166.0 93.7,164.3 94.6,164.3 94.6,165.4 95.6,165.4 95.6,161.0 96.6,161.0 96.6,158.7 97.6,158.7 97.6,160.9 98.5,160.9 98.5,162.9 99.5,162.9 99.5,167.3 100.5,167.3 100.5,170.9 101.5,170.9 101.5,172.3 102.4,172.3 102.4,171.4 103.4,171.4 103.4,171.6 104.4,171.6 104.4,173.5 105.4,173.5 105.4,174.9 106.3,174.9 106.3,175.5 107.3,175.5 107.3,180.6 108.3,180.6 108.3,183.6 109.3,183.6 109.3,180.9 110.2,180.9 110.2,175.6 111.2,175.6 111.2,174.0 112.2,174.0 112.2,170.1 113.2,170.1 113.2,166.5 114.1,166.5 114.1,161.7 115.1,161.7 115.1,153.7 115.9,153.7 115.9,149.0 116.8,149.0 116.8,143.8 117.6,143.8 117.6,138.8 118.8,138.8 118.8,131.1 120.0,131.1 120.0,125.7 120.9,125.7 120.9,122.7 121.9,122.7 121.9,120.4 122.9,120.4 122.9,117.6 123.9,117.6 123.9,117.1 124.8,117.1 124.8,120.4 125.8,120.4 125.8,126.8 126.8,126.8 126.8,130.8 127.8,130.8 127.8,136.3 128.7,136.3 128.7,141.3 129.7,141.3 129.7,148.6 130.7,148.6 130.7,150.5 131.7,150.5 131.7,157.4 132.8,157.4 132.8,162.7 134.0,162.7 134.0,165.2 135.0,165.2 135.0,161.9 135.9,161.9 135.9,156.7 136.9,156.7 136.9,160.8 137.9,160.8 137.9,162.4 138.9,162.4 138.9,161.3 139.8,161.3 139.8,160.8 140.8,160.8 140.8,162.5 141.8,162.5 141.8,164.0 142.8,164.0 142.8,164.7 143.7,164.7 143.7,167.6 144.7,167.6 144.7,165.6 145.7,165.6 145.7,172.1 146.7,172.1 146.7,175.9 147.6,175.9 147.6,177.7 148.6,177.7 148.6,178.5 149.6,178.5 149.6,173.4 150.6,173.4 150.6,172.0 151.5,172.0 151.5,171.2 152.5,171.2 152.5,172.0 153.5,172.0 153.5,171.6 154.5,171.6 154.5,173.2 155.4,173.2 155.4,176.5 156.4,176.5 156.4,178.5 157.4,178.5 157.4,179.6 158.4,179.6 158.4,181.3 159.3,181.3 159.3,181.5 160.3,181.5 160.3,182.4 161.3,182.4 161.3,185.4 162.2,185.4 162.2,185.9 163.2,185.9 163.2,190.5 164.2,190.5 164.2,191.2 165.2,191.2 165.2,192.3 166.1,192.3 166.1,193.1 167.1,193.1 167.1,187.6 168.1,187.6 168.1,185.0 169.1,185.0 169.1,180.4 170.0,180.4 170.0,177.8 171.0,177.8 171.0,175.6 172.0,175.6 172.0,171.0 173.0,171.0 173.0,169.7 173.9,169.7 173.9,164.5 174.9,164.5 174.9,162.1 175.9,162.1 175.9,155.6 176.9,155.6 176.9,152.8 177.8,152.8 177.8,151.5 178.8,151.5 178.8,147.9 179.8,147.9 179.8,152.5 180.8,152.5 180.8,155.3 181.7,155.3 181.7,156.7 182.7,156.7 182.7,160.5 183.7,160.5 183.7,162.1 184.6,162.1 184.6,161.3 185.6,161.3 185.6,161.2 186.6,161.2 186.6,156.2 187.6,156.2 187.6,159.3 188.5,159.3 188.5,157.9 189.5,157.9 189.5,158.6 190.5,158.6 190.5,159.8 191.5,159.8 191.5,156.1 192.4,156.1 192.4,150.6 193.4,150.6 193.4,147.8 194.4,147.8 194.4,144.8 195.2,144.8 195.2,145.6 195.9,145.6 195.9,145.5 197.3,145.5 197.3,154.3 198.3,154.3 198.3,151.9 199.3,151.9 199.3,147.1 200.2,147.1 200.2,150.1 201.2,150.1 201.2,149.7 202.2,149.7 202.2,152.0 203.2,152.0 203.2,153.9 204.1,153.9 204.1,155.1 205.1,155.1 205.1,155.3 206.1,155.3 206.1,158.3 207.1,158.3 207.1,160.6 208.0,160.6 208.0,164.0 209.0,164.0 209.0,168.1 210.0,168.1 210.0,169.3 210.9,169.3 210.9,171.4 211.9,171.4 211.9,173.8 212.9,173.8 212.9,175.8 213.9,175.8 213.9,178.8 214.8,184.2"/>
</g>
<rect x="44.40" y="116.50" width="179.40" height="87.70" fill="none" stroke="#000" stroke-width="0.8"/>
<line x1="40.90" x2="44.40" y1="204.20" y2="204.20" stroke="#000" stroke-width="0.8"/>
<text x="37.80" y="209.00" font-size="11.66" text-anchor="end" textLength="17.49" lengthAdjust="spacingAndGlyphs">0.0</text>
<line x1="40.90" x2="44.40" y1="184.65" y2="184.65" stroke="#000" stroke-width="0.8"/>
<text x="37.80" y="189.45" font-size="11.66" text-anchor="end" textLength="17.49" lengthAdjust="spacingAndGlyphs">0.1</text>
<line x1="40.90" x2="44.40" y1="165.10" y2="165.10" stroke="#000" stroke-width="0.8"/>
<text x="37.80" y="169.90" font-size="11.66" text-anchor="end" textLength="17.49" lengthAdjust="spacingAndGlyphs">0.2</text>
<line x1="40.90" x2="44.40" y1="145.55" y2="145.55" stroke="#000" stroke-width="0.8"/>
<text x="37.80" y="150.35" font-size="11.66" text-anchor="end" textLength="17.49" lengthAdjust="spacingAndGlyphs">0.3</text>
<line x1="40.90" x2="44.40" y1="126.00" y2="126.00" stroke="#000" stroke-width="0.8"/>
<text x="37.80" y="130.80" font-size="11.66" text-anchor="end" textLength="17.49" lengthAdjust="spacingAndGlyphs">0.4</text>
<defs><clipPath id="cp11"><rect x="250.40" y="116.50" width="179.40" height="87.70"/></clipPath></defs>
<line x1="250.40" x2="429.80" y1="204.10" y2="204.10" stroke="#f0f0f0" stroke-width="0.8" stroke-dasharray="1.2,0.8"/>
<line x1="250.40" x2="429.80" y1="187.42" y2="187.42" stroke="#f0f0f0" stroke-width="0.8" stroke-dasharray="1.2,0.8"/>
<line x1="250.40" x2="429.80" y1="170.74" y2="170.74" stroke="#f0f0f0" stroke-width="0.8" stroke-dasharray="1.2,0.8"/>
<line x1="250.40" x2="429.80" y1="154.06" y2="154.06" stroke="#f0f0f0" stroke-width="0.8" stroke-dasharray="1.2,0.8"/>
<line x1="250.40" x2="429.80" y1="137.38" y2="137.38" stroke="#f0f0f0" stroke-width="0.8" stroke-dasharray="1.2,0.8"/>
<line x1="250.40" x2="429.80" y1="120.70" y2="120.70" stroke="#f0f0f0" stroke-width="0.8" stroke-dasharray="1.2,0.8"/>
<g clip-path="url(#cp11)">
<polyline fill="none" stroke="#ff7f0e" stroke-width="1.6" stroke-linejoin="round" stroke-linecap="square" points="258.2,148.5 259.0,150.1 259.9,150.5 260.7,151.5 261.7,153.0 262.7,152.7 263.6,152.0 264.6,151.8 265.6,150.9 266.6,151.8 267.5,151.4 268.5,152.5 269.5,151.2 270.5,150.8 271.4,150.5 272.4,150.6 273.4,151.1 274.4,151.2 275.3,149.9 276.3,150.1 277.3,149.2 278.2,148.1 279.2,147.1 280.2,146.9 281.2,146.8 282.1,147.4 283.1,147.4 284.1,148.1 285.1,148.1 286.0,148.7 287.0,149.1 288.0,149.3 289.0,150.5 289.9,150.0 290.9,150.5 291.9,150.8 292.9,150.6 293.8,149.4 294.8,149.5 295.8,148.7 296.8,148.4 297.7,148.4 298.7,149.1 299.7,148.9 300.6,150.2 301.6,150.1 302.6,149.4 303.6,148.7 304.5,148.3 305.5,148.6 306.5,148.1 307.5,148.3 308.4,148.6 309.4,148.7 310.4,149.4 311.4,149.7 312.3,150.0 313.3,150.6 314.3,150.7 315.3,150.6 316.2,152.4 317.2,152.6 318.2,153.5 319.2,152.6 320.1,152.3 321.1,151.5 322.1,150.1 323.1,149.0 324.0,147.7 325.0,147.7 326.0,146.2 326.9,145.8 327.9,145.2 328.9,144.8 329.9,144.5 330.8,144.8 331.8,145.2 332.8,146.2 333.8,146.9 334.7,147.1 335.7,147.0 336.7,147.9 337.8,147.9 338.9,148.9 340.0,150.0 341.0,149.5 341.9,148.4 342.9,148.1 343.9,147.1 344.9,146.8 345.8,146.5 346.8,146.6 347.8,146.0 348.8,145.8 349.7,146.2 350.7,146.2 351.7,146.0 352.7,147.2 353.6,147.9 354.6,148.5 355.6,149.5 356.6,149.1 357.5,150.1 358.5,150.7 359.5,150.9 360.5,150.9 361.4,151.5 362.4,151.4 363.4,151.4 364.4,151.0 365.3,151.8 366.3,151.0 367.3,150.7 368.2,150.6 369.2,150.5 370.2,151.0 371.2,150.1 372.1,150.1 373.1,149.9 374.1,150.1 375.1,149.8 376.0,149.7 377.0,149.8 378.0,149.8 379.0,149.4 379.9,148.5 380.9,148.6 381.9,149.0 382.9,148.0 383.8,148.0 384.8,148.1 385.8,148.1 386.8,148.5 387.7,148.5 388.7,148.3 389.7,148.2 390.6,148.2 391.6,148.1 392.6,147.8 393.6,148.3 394.5,147.6 395.5,148.2 396.5,147.9 397.5,147.3 398.4,147.7 399.4,147.8 400.4,147.3 401.4,147.7 402.3,147.3 403.3,147.7 404.3,146.6 405.3,147.0 406.2,147.0 407.2,147.1 408.2,146.7 409.2,147.2 410.1,147.0 411.1,147.4 412.1,148.1 413.1,148.2 414.0,147.5 415.0,148.1 416.0,148.5 416.9,148.2 417.9,148.8 418.9,148.9 419.9,148.6 420.8,148.4 421.8,148.5"/>
<polyline fill="none" stroke="#1f77b4" stroke-width="1.6" stroke-linejoin="round" stroke-linecap="square" points="258.2,140.7 261.7,142.7 265.6,144.6 269.5,145.2 273.4,145.2 281.2,145.2 289.0,145.2 294.8,145.8 300.6,147.1 304.5,146.2 308.4,145.2 312.3,145.2 315.3,146.2 318.2,149.1 321.1,153.0 324.0,156.9 326.9,160.2 328.9,160.8 331.8,158.8 334.7,155.5 337.7,153.6 340.0,152.0 343.9,150.1 348.8,147.7 353.6,147.1 357.5,148.5 361.4,145.8 365.3,143.8 369.2,140.3 372.1,142.3 376.0,146.2 379.9,148.5 383.8,147.1 388.7,146.6 392.6,148.5 396.5,151.0 400.4,152.4 404.3,152.0 408.2,149.7 412.1,147.1 416.0,144.2 419.9,143.2 421.8,141.9"/>
<polyline fill="none" stroke="#000000" stroke-width="1.8" stroke-linejoin="round" stroke-linecap="round" stroke-dasharray="0.01,3.5" points="258.2,144.2 260.7,146.6 264.6,146.6 268.5,145.8 273.4,145.2 281.2,145.2 292.9,145.2 295.8,149.1 299.7,154.9 303.6,158.8 306.5,155.9 310.4,153.0 314.3,152.0 318.2,154.0 322.1,158.8 326.0,161.8 331.8,162.1 337.7,162.1 340.0,162.7 343.9,161.8 348.8,158.8 353.6,156.9 357.5,157.9 361.4,159.4 365.3,157.9 369.2,154.9 374.1,153.0 378.0,155.9 381.9,157.9 386.8,156.9 390.6,154.0 396.5,153.0 401.4,154.9 406.2,158.8 411.1,161.8 415.0,161.8 418.9,160.2 421.8,158.8"/>
<polyline fill="none" stroke="#ff0000" stroke-width="1.8" stroke-linejoin="round" stroke-linecap="round" stroke-dasharray="0.01,3.5" points="258.2,178.3 259.7,187.1 262.1,195.3 273.4,195.3 276.3,188.1 278.8,180.8 286.0,180.8 289.0,188.1 291.3,195.3 295.8,195.3 297.7,192.9 303.6,192.9 306.5,183.6 308.4,185.5 314.3,185.5 317.2,195.3 320.1,195.3 323.1,182.2 326.0,169.5 328.9,160.8 331.8,162.1 333.8,167.6 336.7,177.3 340.0,187.1 340.0,191.0 341.9,193.9 344.9,187.1 348.8,181.2 352.7,180.8 355.6,186.1 357.5,193.9 361.4,195.3 418.9,195.3"/>
</g>
<rect x="250.40" y="116.50" width="179.40" height="87.70" fill="none" stroke="#000" stroke-width="0.8"/>
<line x1="246.90" x2="250.40" y1="204.10" y2="204.10" stroke="#000" stroke-width="0.8"/>
<text x="243.80" y="208.90" font-size="11.66" text-anchor="end" textLength="7.00" lengthAdjust="spacingAndGlyphs">0</text>
<line x1="246.90" x2="250.40" y1="187.42" y2="187.42" stroke="#000" stroke-width="0.8"/>
<text x="243.80" y="192.22" font-size="11.66" text-anchor="end" textLength="7.00" lengthAdjust="spacingAndGlyphs">2</text>
<line x1="246.90" x2="250.40" y1="170.74" y2="170.74" stroke="#000" stroke-width="0.8"/>
<text x="243.80" y="175.54" font-size="11.66" text-anchor="end" textLength="7.00" lengthAdjust="spacingAndGlyphs">4</text>
<line x1="246.90" x2="250.40" y1="154.06" y2="154.06" stroke="#000" stroke-width="0.8"/>
<text x="243.80" y="158.86" font-size="11.66" text-anchor="end" textLength="7.00" lengthAdjust="spacingAndGlyphs">6</text>
<line x1="246.90" x2="250.40" y1="137.38" y2="137.38" stroke="#000" stroke-width="0.8"/>
<text x="243.80" y="142.18" font-size="11.66" text-anchor="end" textLength="7.00" lengthAdjust="spacingAndGlyphs">8</text>
<line x1="246.90" x2="250.40" y1="120.70" y2="120.70" stroke="#000" stroke-width="0.8"/>
<text x="243.80" y="125.50" font-size="11.66" text-anchor="end" textLength="14.00" lengthAdjust="spacingAndGlyphs">10</text>
<defs><clipPath id="cp12"><rect x="456.50" y="116.50" width="179.30" height="87.70"/></clipPath></defs>
<line x1="456.50" x2="635.80" y1="185.00" y2="185.00" stroke="#f0f0f0" stroke-width="0.8" stroke-dasharray="1.2,0.8"/>
<line x1="456.50" x2="635.80" y1="159.75" y2="159.75" stroke="#f0f0f0" stroke-width="0.8" stroke-dasharray="1.2,0.8"/>
<line x1="456.50" x2="635.80" y1="134.50" y2="134.50" stroke="#f0f0f0" stroke-width="0.8" stroke-dasharray="1.2,0.8"/>
<g clip-path="url(#cp12)">
<polygon fill="rgba(255,127,14,0.2)" stroke="rgba(255,127,14,0.32)" stroke-width="1.0" points="464.4,127.5 465.5,127.5 466.6,127.6 467.8,127.8 468.9,129.2 470.0,129.0 471.1,128.6 472.2,127.8 473.2,127.0 474.3,127.1 475.4,127.0 476.6,127.4 477.7,127.4 478.8,127.9 480.0,127.4 481.1,126.2 482.3,125.5 483.5,125.7 484.6,124.1 485.8,124.1 487.0,123.4 488.3,123.5 489.7,125.6 491.1,125.4 492.3,126.9 493.5,127.1 494.7,126.3 495.9,127.4 497.1,127.6 498.3,126.9 499.6,126.7 501.0,124.7 502.1,126.1 503.3,125.9 504.4,126.6 505.5,125.2 506.6,125.8 507.8,126.7 508.9,127.1 510.0,126.9 511.2,128.4 512.3,128.8 513.4,127.7 514.6,127.3 515.7,127.9 516.8,127.3 517.9,127.5 519.1,127.8 520.2,128.3 521.3,128.3 522.5,129.0 523.6,130.1 524.7,130.3 525.8,129.5 526.9,129.8 528.0,129.2 529.1,129.4 530.2,127.8 531.3,126.1 532.4,124.5 533.6,123.1 534.7,121.9 535.8,123.7 537.0,124.3 538.1,124.6 539.2,124.2 540.4,125.6 541.5,124.7 542.6,125.9 543.7,125.6 544.9,125.7 546.0,125.5 547.1,124.6 548.3,124.8 549.4,124.4 550.5,122.7 551.6,122.5 553.0,123.2 554.4,123.3 555.7,123.0 556.8,123.6 557.9,125.0 559.0,124.4 560.0,124.9 561.1,126.1 562.2,125.9 563.2,127.4 564.3,127.0 565.7,127.6 567.0,126.3 568.4,126.7 569.5,126.7 570.5,126.8 571.6,126.1 572.7,126.2 574.1,127.0 575.6,128.3 576.7,129.3 577.8,128.4 578.9,128.9 580.0,129.6 581.1,129.1 582.1,129.0 583.2,128.5 584.3,128.9 585.4,127.6 586.5,128.9 587.6,128.1 588.7,128.1 589.9,127.7 591.0,127.5 592.1,128.1 593.3,127.8 594.4,127.5 595.5,126.1 596.6,126.8 597.8,127.4 598.9,126.9 600.0,126.7 601.2,126.9 602.3,126.2 603.4,127.2 604.6,127.5 605.7,126.5 606.8,127.3 607.9,127.6 609.1,127.1 610.3,127.5 611.5,127.8 612.7,127.7 613.9,126.6 615.1,126.2 616.3,127.3 617.5,127.5 618.6,128.4 619.7,129.0 620.8,128.7 622.0,129.8 623.1,129.1 624.2,129.8 625.2,129.4 626.3,128.6 627.4,128.8 627.4,189.8 626.1,190.6 624.7,191.0 623.6,190.0 622.4,190.8 621.3,190.3 620.2,191.8 619.1,191.8 618.0,190.7 616.9,191.4 615.8,192.5 614.7,192.9 613.6,193.2 612.5,191.6 611.3,192.0 610.2,191.4 609.1,192.1 607.9,192.4 606.8,191.9 605.7,192.1 604.6,190.9 603.4,191.5 602.3,191.4 601.1,191.0 600.0,192.0 598.8,192.2 597.6,191.2 596.5,191.8 595.3,191.6 594.1,192.8 592.9,193.1 591.8,192.6 590.6,192.8 589.4,192.5 588.3,193.5 587.1,193.1 585.9,193.6 584.7,194.0 583.5,194.2 582.3,193.2 581.1,194.7 579.9,194.4 578.7,193.2 577.6,193.4 576.4,192.0 575.2,191.0 574.1,191.0 572.7,190.8 571.3,189.7 570.0,188.0 568.8,188.5 567.6,189.1 566.5,190.3 565.3,191.6 564.1,190.9 562.9,191.8 561.8,193.2 560.7,193.3 559.6,193.4 558.4,194.5 557.3,194.7 556.2,194.5 555.0,194.6 553.9,195.1 552.8,194.1 551.6,194.3 550.5,193.8 549.4,194.7 548.3,194.8 547.1,193.6 546.0,193.7 544.9,194.5 543.7,194.7 542.6,195.8 541.5,197.3 540.4,198.1 539.2,197.7 538.1,197.4 537.0,197.4 535.8,197.8 534.7,196.6 533.3,195.4 532.0,195.4 530.6,193.6 529.5,194.1 528.5,193.9 527.4,194.2 526.3,192.9 525.2,193.0 524.0,193.4 522.8,193.5 521.6,194.0 520.5,193.6 519.3,193.5 518.1,193.5 517.0,193.2 515.8,193.4 514.6,193.1 513.5,192.7 512.3,193.6 511.2,192.9 510.2,192.7 509.1,191.7 508.0,191.5 506.6,191.2 505.1,191.0 503.9,192.4 502.8,192.2 501.6,193.0 500.4,193.6 499.2,193.8 498.1,194.6 496.9,193.7 495.7,193.9 494.6,194.5 493.4,195.7 492.2,194.7 491.1,195.2 489.9,195.6 488.7,195.7 487.6,194.3 486.4,195.4 485.2,194.9 484.1,194.2 482.9,194.7 481.7,194.8 480.5,194.0 479.4,193.7 478.2,194.4 477.0,193.9 475.9,193.6 474.7,194.2 473.5,193.6 472.4,194.8 471.2,194.4 470.0,194.5 468.9,193.2 467.8,192.9 466.6,192.0 465.5,192.6 464.4,191.9"/>
<polygon fill="rgba(31,119,180,0.2)" stroke="rgba(31,119,180,0.3)" stroke-width="1.0" points="464.4,121.0 465.5,120.6 466.6,121.6 467.8,121.1 468.9,121.6 470.0,122.0 471.2,122.4 472.4,122.2 473.5,122.5 474.7,122.2 475.9,122.9 477.0,123.0 478.2,123.5 479.4,123.0 480.5,123.2 481.7,122.7 482.9,122.3 484.1,123.0 485.5,122.2 487.0,120.9 488.1,120.9 489.2,121.7 490.4,122.0 491.5,122.6 492.6,122.7 493.8,122.7 494.9,122.8 496.0,122.7 497.1,122.4 498.3,122.5 499.4,123.5 500.6,123.3 501.8,122.5 502.9,123.2 504.1,122.7 505.3,122.1 506.5,123.0 507.6,122.6 508.8,122.9 510.0,122.6 511.1,121.8 512.3,122.4 513.5,122.5 514.6,122.5 515.8,121.7 517.0,121.9 518.1,122.0 519.3,121.2 520.5,122.3 521.6,122.5 522.8,121.9 524.0,122.8 525.2,122.8 526.3,122.8 527.4,124.0 528.5,125.2 529.5,125.4 530.6,125.6 532.0,126.3 533.3,126.8 534.7,127.2 535.8,126.7 537.0,125.6 538.1,126.4 539.2,125.7 540.4,124.8 541.5,124.8 542.6,124.7 543.7,125.3 544.9,124.6 546.0,125.3 547.1,123.7 548.1,123.4 549.2,122.5 550.3,121.3 551.6,121.2 553.0,122.3 554.4,122.4 555.5,121.6 556.6,122.6 557.8,123.2 558.9,123.4 560.0,123.6 561.2,122.6 562.4,122.7 563.5,122.1 564.7,122.3 565.9,121.6 567.0,121.5 568.2,121.6 569.4,121.2 570.5,121.7 571.7,121.1 572.9,121.3 574.1,122.3 575.1,121.7 576.2,122.0 577.3,121.9 578.3,121.5 579.4,122.5 580.5,123.4 581.6,123.2 582.6,123.8 583.8,123.5 584.9,123.4 586.0,124.1 587.1,123.9 588.3,124.1 589.4,123.6 590.6,123.8 591.8,122.8 592.9,122.5 594.1,122.4 595.3,122.5 596.5,123.2 597.6,122.3 598.8,122.5 600.0,122.1 601.1,122.0 602.3,122.7 603.7,123.3 605.0,123.8 606.4,124.8 607.5,125.0 608.6,125.3 609.8,125.0 610.9,124.8 612.0,124.9 613.2,125.4 614.3,124.4 615.4,123.9 616.6,124.5 617.7,123.5 618.9,123.9 620.0,123.1 621.2,123.2 622.4,122.5 623.5,122.7 624.7,122.4 626.1,121.8 627.4,121.6 627.4,197.6 626.3,196.8 625.2,196.7 624.2,196.5 623.1,196.2 622.0,196.0 620.8,195.4 619.7,196.1 618.6,196.0 617.5,196.4 616.3,196.5 615.2,195.7 614.1,196.8 612.9,196.5 611.8,196.5 610.7,196.6 609.6,196.3 608.5,195.9 607.5,194.9 606.4,194.4 605.2,195.4 604.1,194.7 602.9,195.3 601.7,195.3 600.5,195.3 599.4,196.1 598.2,196.5 597.0,196.3 595.9,197.2 594.7,197.1 593.5,197.1 592.4,197.9 591.2,198.2 590.0,197.3 588.9,198.4 587.7,198.2 586.5,198.0 585.4,197.7 584.2,198.5 583.0,199.0 581.8,198.3 580.7,198.2 579.5,199.4 578.3,199.0 577.2,198.4 576.0,197.7 574.8,197.2 573.7,197.0 572.5,196.6 571.3,196.2 570.3,196.7 569.2,196.4 568.1,196.1 567.0,196.5 565.9,197.7 564.7,197.3 563.5,198.3 562.4,198.7 561.2,198.2 560.0,199.1 558.9,198.8 557.7,198.0 556.5,197.3 555.4,197.3 554.2,197.3 553.0,196.6 551.8,196.7 550.7,196.8 549.5,196.3 548.3,195.5 547.2,195.2 546.0,195.6 544.9,195.0 543.7,195.6 542.6,195.3 541.5,196.1 540.4,196.4 539.2,195.5 538.1,194.8 537.0,194.5 535.8,194.3 534.7,194.7 533.3,194.1 532.0,194.3 530.6,194.4 529.5,194.2 528.5,195.1 527.4,195.7 526.3,196.3 525.2,197.8 524.1,198.3 522.9,198.3 521.8,199.2 520.7,199.9 519.5,199.2 518.3,198.6 517.2,198.6 516.0,198.4 514.8,198.1 513.7,198.0 512.6,196.5 511.5,196.0 510.4,195.3 509.4,194.3 508.3,194.0 507.2,195.0 506.2,195.9 505.1,196.2 503.9,195.8 502.8,196.3 501.6,196.5 500.4,196.7 499.2,197.8 498.1,197.6 496.9,197.6 495.7,197.2 494.6,198.5 493.4,198.1 492.2,197.6 491.1,198.7 489.9,197.6 488.7,197.5 487.6,197.4 486.4,197.9 485.2,198.1 484.1,197.1 482.9,197.5 481.7,198.0 480.5,197.8 479.4,197.8 478.2,198.3 477.0,198.8 475.9,198.3 474.7,198.0 473.5,198.0 472.4,198.2 471.2,198.3 470.0,198.6 468.9,198.4 467.8,199.1 466.6,198.5 465.5,198.2 464.4,198.2"/>
<polyline fill="none" stroke="rgba(255,255,255,0.45)" stroke-width="3.4" stroke-linejoin="round" stroke-linecap="square" points="464.2,164.1 465.0,163.5 465.7,163.4 466.5,162.6 467.3,162.6 468.1,161.9 468.9,161.5 469.6,161.5 470.5,161.2 471.3,161.4 472.1,161.9 473.0,161.0 473.8,161.6 474.6,161.0 475.5,161.7 476.3,161.5 477.2,160.7 478.0,161.3 478.8,161.0 479.7,160.0 480.5,160.3 481.3,160.4 482.2,160.5 483.0,159.4 483.8,159.3 484.7,159.7 485.5,159.8 486.3,158.5 487.2,158.3 487.9,159.5 488.7,159.4 489.5,159.9 490.3,160.8 491.1,161.1 491.8,161.4 492.6,162.0 493.4,162.2 494.2,162.7 495.0,162.9 495.7,162.6 496.5,161.8 497.3,162.6 498.1,162.4 498.9,161.6 499.6,161.7 500.4,160.8 501.2,161.2 502.0,161.1 502.8,160.5 503.5,159.8 504.2,159.5 504.9,157.9 505.7,157.4 506.4,157.1 507.1,157.5 507.9,158.2 508.6,158.0 509.4,157.6 510.2,158.9 510.9,159.0 511.7,159.1 512.5,159.2 513.3,159.3 514.1,159.3 514.8,160.0 515.6,159.5 516.4,160.7 517.2,160.0 517.9,161.0 518.7,161.2 519.5,161.3 520.3,161.5 521.0,162.8 521.7,163.7 522.5,165.5 523.2,166.2 523.9,165.2 524.7,164.6 525.4,163.5 526.1,162.3 526.9,162.0 527.7,163.1 528.5,162.8 529.2,161.8 530.0,162.3 530.8,161.5 531.6,160.7 532.4,158.8 533.1,158.0 533.9,157.3 534.9,159.7 535.9,161.3 536.6,162.1 537.4,162.2 538.2,161.9 539.0,162.5 539.8,162.0 540.5,162.5 541.3,161.9 542.1,161.9 542.9,161.8 543.7,162.2 544.4,162.3 545.2,161.3 546.0,161.9 546.7,161.4 547.5,160.5 548.2,159.2 548.9,158.7 549.7,159.8 550.4,159.5 551.1,160.8 551.8,160.6 552.7,160.7 553.5,160.9 554.3,160.7 555.2,160.6 556.0,160.8 556.9,160.4 557.7,160.7 558.5,160.6 559.4,160.7 560.2,160.3 561.0,161.6 561.9,161.0 562.7,161.2 563.5,161.2 564.4,162.2 565.2,162.3 566.0,162.9 566.9,163.5 567.7,164.0 568.5,164.1 569.4,164.5 570.2,163.5 570.9,162.6 571.7,163.0 572.5,162.8 573.3,161.7 574.1,162.0 574.9,161.3 575.8,160.8 576.6,161.0 577.4,159.8 578.3,159.9 579.1,160.0 579.9,158.9 580.7,159.1 581.5,158.5 582.2,157.9 583.0,157.7 583.8,158.1 584.6,157.9 585.4,157.7 586.1,157.9 586.9,157.4 587.6,157.4 588.4,156.7 589.1,157.2 589.8,157.1 590.6,158.0 591.3,159.2 592.0,160.4 592.8,161.0 593.5,161.5 594.3,161.4 595.1,161.1 595.9,162.0 596.6,162.0 597.5,161.9 598.3,161.2 599.2,161.7 600.0,161.3 600.8,161.6 601.7,161.9 602.5,161.2 603.3,160.1 604.1,159.6 604.9,159.5 605.7,159.2 606.6,157.6 607.4,157.4 608.1,158.1 608.9,159.0 609.7,160.0 610.5,160.6 611.3,161.1 612.1,161.6 612.9,161.3 613.7,161.3 614.5,160.1 615.3,160.4 616.1,159.9 617.0,159.7 617.8,160.7 618.6,160.4 619.5,160.1 620.3,160.5 621.1,160.6 622.0,160.2 622.8,159.9 623.5,161.1 624.3,160.9 625.1,161.0 625.9,160.9 626.6,161.6 627.4,161.8"/>
<polyline fill="none" stroke="#ff0000" stroke-width="1.9" stroke-linejoin="round" stroke-linecap="butt" stroke-dasharray="6,0.7" points="464.2,164.1 465.0,163.5 465.7,163.4 466.5,162.6 467.3,162.6 468.1,161.9 468.9,161.5 469.6,161.5 470.5,161.2 471.3,161.4 472.1,161.9 473.0,161.0 473.8,161.6 474.6,161.0 475.5,161.7 476.3,161.5 477.2,160.7 478.0,161.3 478.8,161.0 479.7,160.0 480.5,160.3 481.3,160.4 482.2,160.5 483.0,159.4 483.8,159.3 484.7,159.7 485.5,159.8 486.3,158.5 487.2,158.3 487.9,159.5 488.7,159.4 489.5,159.9 490.3,160.8 491.1,161.1 491.8,161.4 492.6,162.0 493.4,162.2 494.2,162.7 495.0,162.9 495.7,162.6 496.5,161.8 497.3,162.6 498.1,162.4 498.9,161.6 499.6,161.7 500.4,160.8 501.2,161.2 502.0,161.1 502.8,160.5 503.5,159.8 504.2,159.5 504.9,157.9 505.7,157.4 506.4,157.1 507.1,157.5 507.9,158.2 508.6,158.0 509.4,157.6 510.2,158.9 510.9,159.0 511.7,159.1 512.5,159.2 513.3,159.3 514.1,159.3 514.8,160.0 515.6,159.5 516.4,160.7 517.2,160.0 517.9,161.0 518.7,161.2 519.5,161.3 520.3,161.5 521.0,162.8 521.7,163.7 522.5,165.5 523.2,166.2 523.9,165.2 524.7,164.6 525.4,163.5 526.1,162.3 526.9,162.0 527.7,163.1 528.5,162.8 529.2,161.8 530.0,162.3 530.8,161.5 531.6,160.7 532.4,158.8 533.1,158.0 533.9,157.3 534.9,159.7 535.9,161.3 536.6,162.1 537.4,162.2 538.2,161.9 539.0,162.5 539.8,162.0 540.5,162.5 541.3,161.9 542.1,161.9 542.9,161.8 543.7,162.2 544.4,162.3 545.2,161.3 546.0,161.9 546.7,161.4 547.5,160.5 548.2,159.2 548.9,158.7 549.7,159.8 550.4,159.5 551.1,160.8 551.8,160.6 552.7,160.7 553.5,160.9 554.3,160.7 555.2,160.6 556.0,160.8 556.9,160.4 557.7,160.7 558.5,160.6 559.4,160.7 560.2,160.3 561.0,161.6 561.9,161.0 562.7,161.2 563.5,161.2 564.4,162.2 565.2,162.3 566.0,162.9 566.9,163.5 567.7,164.0 568.5,164.1 569.4,164.5 570.2,163.5 570.9,162.6 571.7,163.0 572.5,162.8 573.3,161.7 574.1,162.0 574.9,161.3 575.8,160.8 576.6,161.0 577.4,159.8 578.3,159.9 579.1,160.0 579.9,158.9 580.7,159.1 581.5,158.5 582.2,157.9 583.0,157.7 583.8,158.1 584.6,157.9 585.4,157.7 586.1,157.9 586.9,157.4 587.6,157.4 588.4,156.7 589.1,157.2 589.8,157.1 590.6,158.0 591.3,159.2 592.0,160.4 592.8,161.0 593.5,161.5 594.3,161.4 595.1,161.1 595.9,162.0 596.6,162.0 597.5,161.9 598.3,161.2 599.2,161.7 600.0,161.3 600.8,161.6 601.7,161.9 602.5,161.2 603.3,160.1 604.1,159.6 604.9,159.5 605.7,159.2 606.6,157.6 607.4,157.4 608.1,158.1 608.9,159.0 609.7,160.0 610.5,160.6 611.3,161.1 612.1,161.6 612.9,161.3 613.7,161.3 614.5,160.1 615.3,160.4 616.1,159.9 617.0,159.7 617.8,160.7 618.6,160.4 619.5,160.1 620.3,160.5 621.1,160.6 622.0,160.2 622.8,159.9 623.5,161.1 624.3,160.9 625.1,161.0 625.9,160.9 626.6,161.6 627.4,161.8"/>
</g>
<rect x="456.50" y="116.50" width="179.30" height="87.70" fill="none" stroke="#000" stroke-width="0.8"/>
<line x1="453.00" x2="456.50" y1="185.00" y2="185.00" stroke="#000" stroke-width="0.8"/>
<text x="449.90" y="189.80" font-size="11.66" text-anchor="end" textLength="17.49" lengthAdjust="spacingAndGlyphs">0.5</text>
<line x1="453.00" x2="456.50" y1="159.75" y2="159.75" stroke="#000" stroke-width="0.8"/>
<text x="449.90" y="164.55" font-size="11.66" text-anchor="end" textLength="17.49" lengthAdjust="spacingAndGlyphs">1.0</text>
<line x1="453.00" x2="456.50" y1="134.50" y2="134.50" stroke="#000" stroke-width="0.8"/>
<text x="449.90" y="139.30" font-size="11.66" text-anchor="end" textLength="17.49" lengthAdjust="spacingAndGlyphs">1.5</text>
<defs><clipPath id="cp20"><rect x="44.40" y="217.45" width="179.40" height="88.65"/></clipPath></defs>
<line x1="44.40" x2="223.80" y1="306.10" y2="306.10" stroke="#f0f0f0" stroke-width="0.8" stroke-dasharray="1.2,0.8"/>
<line x1="44.40" x2="223.80" y1="286.43" y2="286.43" stroke="#f0f0f0" stroke-width="0.8" stroke-dasharray="1.2,0.8"/>
<line x1="44.40" x2="223.80" y1="266.75" y2="266.75" stroke="#f0f0f0" stroke-width="0.8" stroke-dasharray="1.2,0.8"/>
<line x1="44.40" x2="223.80" y1="247.08" y2="247.08" stroke="#f0f0f0" stroke-width="0.8" stroke-dasharray="1.2,0.8"/>
<line x1="44.40" x2="223.80" y1="227.40" y2="227.40" stroke="#f0f0f0" stroke-width="0.8" stroke-dasharray="1.2,0.8"/>
<line x1="52.55" x2="52.55" y1="217.45" y2="306.10" stroke="#f0f0f0" stroke-width="0.8" stroke-dasharray="1.2,0.8"/>
<line x1="110.80" x2="110.80" y1="217.45" y2="306.10" stroke="#f0f0f0" stroke-width="0.8" stroke-dasharray="1.2,0.8"/>
<line x1="157.40" x2="157.40" y1="217.45" y2="306.10" stroke="#f0f0f0" stroke-width="0.8" stroke-dasharray="1.2,0.8"/>
<line x1="215.65" x2="215.65" y1="217.45" y2="306.10" stroke="#f0f0f0" stroke-width="0.8" stroke-dasharray="1.2,0.8"/>
<g clip-path="url(#cp20)">
<polyline fill="none" stroke="#ff7f0e" stroke-width="1.6" stroke-linejoin="round" stroke-linecap="square" points="52.2,276.4 53.0,273.5 53.7,270.5 54.7,268.1 55.7,265.7 56.7,265.7 57.7,265.7 58.7,265.7 58.8,267.8 59.7,267.8 59.8,265.7 59.7,265.7 59.8,267.4 60.2,267.4 60.3,265.7 60.7,265.7 60.8,267.3 61.7,267.3 61.8,265.7 61.7,265.7 61.8,267.8 62.5,267.8 62.6,265.7 62.7,265.7 62.8,264.3 63.7,264.3 63.8,265.7 63.7,265.7 63.8,267.9 64.2,267.9 64.3,265.7 64.7,265.7 64.8,267.9 65.2,267.9 65.3,265.7 65.7,265.8 65.8,264.0 66.7,264.0 66.8,265.8 66.7,265.8 67.7,265.8 67.8,264.3 68.5,264.3 68.6,265.8 68.7,265.8 68.8,267.2 69.2,267.2 69.3,265.8 69.7,265.8 69.8,267.8 70.7,267.8 70.8,265.8 70.7,265.8 70.8,264.2 71.5,264.2 71.6,265.8 71.8,265.8 71.8,267.7 72.3,267.7 72.3,265.8 72.8,265.8 73.8,265.8 74.8,265.8 74.8,264.5 75.8,264.5 75.8,265.8 75.8,265.8 75.8,267.6 76.6,267.6 76.6,265.8 76.8,265.8 76.8,264.5 77.3,264.5 77.3,265.8 77.8,265.8 78.8,265.8 79.8,265.9 80.8,265.9 80.8,267.9 81.6,267.9 81.6,265.9 81.8,265.9 81.8,267.7 82.6,267.7 82.6,265.9 82.8,265.9 82.8,263.9 83.6,263.9 83.6,265.9 83.8,265.9 83.9,264.5 84.6,264.5 84.7,265.9 84.8,265.9 85.8,265.9 85.9,267.5 86.8,267.5 86.9,265.9 86.8,265.9 87.8,265.9 87.9,267.4 88.3,267.4 88.4,265.9 88.8,265.9 89.8,265.9 90.8,265.9 90.9,267.9 91.3,267.9 91.4,265.9 91.8,265.9 92.8,266.0 93.8,266.0 93.9,267.8 94.6,267.8 94.7,266.0 94.8,266.0 95.8,266.0 95.9,268.1 96.3,268.1 96.4,266.0 96.9,266.0 97.9,266.0 97.9,268.2 98.9,268.2 98.9,266.0 98.9,266.0 99.9,266.0 100.9,266.0 101.9,266.0 101.9,267.5 102.7,267.5 102.7,266.0 102.9,266.0 102.9,268.2 103.4,268.2 103.4,266.0 103.9,266.0 104.9,266.0 105.9,266.0 106.9,266.1 107.9,266.1 108.9,266.1 109.0,267.5 109.7,267.5 109.8,266.1 109.9,266.1 110.9,266.1 111.9,266.1 112.0,264.0 112.4,264.0 112.5,266.1 112.9,266.1 113.0,268.1 113.9,268.1 114.0,266.1 113.9,266.1 114.0,264.1 114.9,264.1 115.0,266.1 114.9,266.1 115.9,266.1 116.0,267.9 116.9,267.9 117.0,266.1 116.9,266.1 117.0,268.1 117.9,268.1 118.0,266.1 117.9,266.1 118.9,266.1 119.9,266.2 120.0,268.2 120.7,268.2 120.8,266.2 120.9,266.2 122.0,266.2 122.0,264.4 123.0,264.4 123.0,266.2 123.0,266.2 124.0,266.2 125.0,266.2 125.0,264.2 125.8,264.2 125.8,266.2 126.0,266.2 126.0,264.1 127.0,264.1 127.0,266.2 127.0,266.2 127.0,267.8 127.5,267.8 127.5,266.2 128.0,266.2 129.0,266.2 129.0,264.1 129.8,264.1 129.8,266.2 130.0,266.2 130.0,268.1 130.8,268.1 130.8,266.2 131.0,266.2 131.0,264.4 132.0,264.4 132.0,266.2 132.0,266.2 133.0,266.3 133.0,264.2 133.8,264.2 133.8,266.3 134.0,266.3 135.0,266.3 135.0,268.0 136.0,268.0 136.0,266.3 136.0,266.3 136.0,264.8 137.0,264.8 137.0,266.3 137.0,266.3 137.0,267.8 137.5,267.8 137.5,266.3 138.0,266.3 139.0,266.3 139.0,264.5 140.0,264.5 140.0,266.3 140.0,266.3 140.0,267.9 141.0,267.9 141.0,266.3 141.0,266.3 141.0,268.2 141.8,268.2 141.8,266.3 142.0,266.3 142.0,267.8 142.8,267.8 142.8,266.3 143.0,266.3 144.0,266.3 145.0,266.3 146.0,266.3 147.0,266.3 148.0,266.3 148.0,268.0 149.0,268.0 149.0,266.3 149.0,266.3 149.0,267.7 149.8,267.7 149.8,266.3 150.0,266.3 151.0,266.3 152.0,266.3 152.0,268.1 153.0,268.1 153.0,266.3 153.0,266.3 154.0,266.3 154.0,267.7 155.0,267.7 155.0,266.3 155.0,266.3 155.0,268.1 156.0,268.1 156.0,266.3 156.0,266.3 157.0,266.3 157.0,264.4 157.8,264.4 157.8,266.3 158.0,266.3 158.0,267.8 159.0,267.8 159.0,266.3 159.0,266.3 159.0,264.1 160.0,264.1 160.0,266.3 159.9,266.3 160.9,266.3 161.9,266.3 162.0,267.6 162.7,267.6 162.8,266.3 162.9,266.3 163.9,266.3 164.0,267.7 164.9,267.7 165.0,266.3 164.9,266.3 165.9,266.3 166.0,267.7 166.7,267.7 166.8,266.3 166.9,266.3 167.0,264.7 167.7,264.7 167.8,266.3 167.9,266.3 168.9,266.3 169.0,267.7 169.7,267.7 169.8,266.3 169.9,266.3 170.0,264.5 170.9,264.5 171.0,266.3 170.9,266.3 171.9,266.3 172.9,266.3 173.9,266.3 174.0,267.8 174.9,267.8 175.0,266.3 174.9,266.3 175.0,268.0 175.7,268.0 175.8,266.3 175.9,266.3 176.0,264.2 176.4,264.2 176.5,266.3 176.9,266.3 177.0,268.0 177.4,268.0 177.5,266.3 177.9,266.3 178.9,266.3 179.9,266.3 180.0,264.6 180.9,264.6 181.0,266.3 180.9,266.3 181.9,266.3 182.9,266.3 183.9,266.3 184.9,266.3 185.9,266.3 186.9,266.3 187.9,266.3 188.9,266.3 189.9,266.3 190.9,266.3 191.9,266.3 191.9,268.3 192.9,268.3 192.9,266.3 192.9,266.3 192.9,264.1 193.4,264.1 193.4,266.3 193.9,266.3 193.9,264.2 194.7,264.2 194.7,266.3 194.9,266.3 195.9,266.3 195.9,264.9 196.9,264.9 196.9,266.3 196.9,266.3 196.9,264.2 197.9,264.2 197.9,266.3 197.9,266.3 198.9,266.3 198.9,267.6 199.7,267.6 199.7,266.3 199.9,266.3 200.9,266.3 200.9,264.7 201.9,264.7 201.9,266.3 201.9,266.3 202.9,266.3 202.9,264.1 203.9,264.1 203.9,266.3 203.9,266.3 204.9,266.3 204.9,264.6 205.4,264.6 205.4,266.3 205.9,266.3 205.9,268.1 206.9,268.1 206.9,266.3 206.9,266.3 206.9,267.6 207.9,267.6 207.9,266.3 207.9,266.3 207.9,268.1 208.4,268.1 208.4,266.3 208.9,266.3 208.9,268.1 209.7,268.1 209.7,266.3 209.9,266.3 209.9,264.1 210.4,264.1 210.4,266.3 210.9,266.3 211.8,266.3 211.9,264.5 212.8,264.5 212.9,266.3 212.8,266.3 213.8,266.3 213.9,267.8 214.6,267.8 214.7,266.3 214.8,266.3"/>
<polyline fill="none" stroke="#1f77b4" stroke-width="1.6" stroke-linejoin="round" stroke-linecap="square" points="52.2,227.3 53.0,227.3 53.0,234.8 53.7,234.8 53.7,240.8 54.7,240.8 54.7,254.5 55.7,254.5 55.7,267.1 56.7,267.1 56.7,278.8 57.6,278.8 57.6,287.6 58.6,287.6 58.6,290.5 60.0,290.5 60.0,291.5 60.8,291.5 60.8,293.4 61.5,293.4 61.5,295.4 62.5,295.4 62.5,300.3 63.5,300.3 63.5,297.8 64.5,297.8 64.5,295.4 65.4,295.4 65.4,292.9 66.4,292.9 66.4,292.5 67.4,292.5 67.4,291.5 68.4,291.5 68.4,291.5 69.3,291.5 69.3,291.5 70.3,291.5 70.3,293.4 71.3,293.4 71.3,296.4 72.2,296.4 72.2,295.9 73.2,295.9 73.2,295.4 74.2,295.4 74.2,292.9 75.2,292.9 75.2,291.5 76.1,291.5 76.1,293.9 77.1,293.9 77.1,297.3 78.1,297.3 78.1,295.9 79.1,295.9 79.1,294.4 80.0,294.4 80.0,294.4 81.0,294.4 81.0,294.4 82.0,294.4 82.0,294.4 83.0,294.4 83.0,294.4 83.9,294.4 83.9,295.4 84.9,295.4 84.9,296.4 85.9,296.4 85.9,298.8 86.9,298.8 86.9,301.2 87.8,301.2 87.8,300.5 88.8,300.5 88.8,301.7 89.8,301.7 89.8,301.0 90.8,301.0 90.8,301.2 91.7,301.2 91.7,304.9 92.7,304.9 92.7,304.9 93.7,304.9 93.7,305.9 94.7,305.9 94.7,305.9 95.8,305.9 95.8,305.9 96.8,305.9 96.8,304.9 97.8,304.9 97.8,305.9 98.8,305.9 98.8,304.9 99.8,304.9 99.8,304.9 100.8,304.9 100.8,304.9 101.8,304.9 101.8,304.9 102.8,304.9 102.8,304.9 103.8,304.9 103.8,304.9 104.8,304.9 104.8,305.9 105.8,305.9 105.8,305.9 106.8,305.9 106.8,305.9 107.8,305.9 107.8,304.9 108.8,304.9 108.8,304.9 109.8,304.9 109.8,304.9 110.9,304.9 110.9,304.9 111.9,304.9 111.9,304.9 112.9,304.9 112.9,304.9 113.9,304.9 113.9,304.9 114.9,304.9 114.9,305.9 115.9,305.9 115.9,305.9 116.9,305.9 116.9,305.9 117.9,305.9 117.9,305.9 118.9,305.9 118.9,304.9 119.9,304.9 119.9,304.9 120.9,304.9 120.9,304.9 121.9,304.9 121.9,304.9 122.9,304.9 122.9,304.9 123.9,304.9 123.9,304.9 124.9,304.9 124.9,305.9 125.9,305.9 125.9,304.9 127.0,304.9 127.0,304.9 128.0,304.9 128.0,304.9 129.0,304.9 129.0,305.9 130.0,305.9 130.0,305.9 131.0,305.9 131.0,305.9 132.0,305.9 132.0,305.9 133.0,305.9 133.0,304.9 134.0,304.9 134.0,305.9 135.0,305.9 135.0,305.9 135.9,305.9 135.9,305.9 136.9,305.9 136.9,305.9 137.9,305.9 137.9,305.9 138.9,305.9 138.9,305.9 139.8,305.9 139.8,305.9 140.8,305.9 140.8,304.9 141.8,304.9 141.8,305.9 142.8,305.9 142.8,304.9 143.7,304.9 143.7,303.7 144.7,303.7 144.7,302.4 145.7,302.4 145.7,301.2 146.7,301.2 146.7,300.2 147.6,300.2 147.6,299.3 148.6,299.3 148.6,298.3 149.6,298.3 149.6,296.3 150.6,296.3 150.6,294.4 151.5,294.4 151.5,292.4 152.5,292.4 152.5,291.8 153.5,291.8 153.5,291.1 154.5,291.1 154.5,290.5 155.4,290.5 155.4,291.2 156.4,291.2 156.4,290.9 157.4,290.9 157.4,290.5 158.4,290.5 158.4,291.5 159.3,291.5 159.3,292.5 160.3,292.5 160.3,292.4 161.3,292.4 161.3,294.7 162.2,294.7 162.2,296.0 163.2,296.0 163.2,297.3 164.2,297.3 164.2,299.0 165.2,299.0 165.2,300.6 166.1,300.6 166.1,302.2 167.0,302.2 167.0,302.9 167.8,302.9 167.8,303.5 168.7,303.5 168.7,304.2 169.8,304.2 169.8,301.2 171.0,301.2 171.0,297.3 172.0,297.3 172.0,294.4 173.0,294.4 173.0,290.5 173.9,290.5 173.9,285.7 174.9,285.7 174.9,279.8 175.9,279.8 175.9,277.4 176.9,277.4 176.9,274.9 177.8,274.9 177.8,273.9 178.8,273.9 178.8,273.0 179.8,273.0 179.8,273.0 180.8,273.0 180.8,273.0 181.7,273.0 181.7,273.9 182.7,273.9 182.7,276.9 183.7,276.9 183.7,279.8 184.6,279.8 184.6,283.7 185.6,283.7 185.6,287.6 186.6,287.6 186.6,291.5 187.6,291.5 187.6,295.4 188.5,295.4 188.5,298.0 189.5,298.0 189.5,299.6 190.5,299.6 190.5,300.2 191.5,300.2 191.5,302.6 192.4,302.6 192.4,304.9 193.5,304.9 193.5,304.9 194.5,304.9 194.5,304.9 195.5,304.9 195.5,304.9 196.5,304.9 196.5,304.9 197.5,304.9 197.5,304.9 198.6,304.9 198.6,305.9 199.6,305.9 199.6,305.9 200.6,305.9 200.6,305.9 201.6,305.9 201.6,304.9 202.6,304.9 202.6,304.9 203.6,304.9 203.6,304.9 204.7,304.9 204.7,305.9 205.7,305.9 205.7,305.9 206.7,305.9 206.7,305.9 207.7,305.9 207.7,305.9 208.7,305.9 208.7,305.9 209.8,305.9 209.8,305.9 210.8,305.9 210.8,305.9 211.8,305.9 211.8,305.9 212.8,305.9 212.8,304.9 213.8,304.9 213.8,305.9 214.8,305.4"/>
</g>
<rect x="44.40" y="217.45" width="179.40" height="88.65" fill="none" stroke="#000" stroke-width="0.8"/>
<line x1="40.90" x2="44.40" y1="306.10" y2="306.10" stroke="#000" stroke-width="0.8"/>
<text x="37.80" y="310.90" font-size="11.66" text-anchor="end" textLength="17.49" lengthAdjust="spacingAndGlyphs">0.0</text>
<line x1="40.90" x2="44.40" y1="286.43" y2="286.43" stroke="#000" stroke-width="0.8"/>
<text x="37.80" y="291.23" font-size="11.66" text-anchor="end" textLength="17.49" lengthAdjust="spacingAndGlyphs">0.1</text>
<line x1="40.90" x2="44.40" y1="266.75" y2="266.75" stroke="#000" stroke-width="0.8"/>
<text x="37.80" y="271.55" font-size="11.66" text-anchor="end" textLength="17.49" lengthAdjust="spacingAndGlyphs">0.2</text>
<line x1="40.90" x2="44.40" y1="247.08" y2="247.08" stroke="#000" stroke-width="0.8"/>
<text x="37.80" y="251.88" font-size="11.66" text-anchor="end" textLength="17.49" lengthAdjust="spacingAndGlyphs">0.3</text>
<line x1="40.90" x2="44.40" y1="227.40" y2="227.40" stroke="#000" stroke-width="0.8"/>
<text x="37.80" y="232.20" font-size="11.66" text-anchor="end" textLength="17.49" lengthAdjust="spacingAndGlyphs">0.4</text>
<line x1="52.55" x2="52.55" y1="306.10" y2="309.60" stroke="#000" stroke-width="0.8"/>
<text x="52.55" y="321.10" font-size="11.66" text-anchor="middle" textLength="21.00" lengthAdjust="spacingAndGlyphs">600</text>
<line x1="110.80" x2="110.80" y1="306.10" y2="309.60" stroke="#000" stroke-width="0.8"/>
<text x="110.80" y="321.10" font-size="11.66" text-anchor="middle" textLength="27.99" lengthAdjust="spacingAndGlyphs">1100</text>
<line x1="157.40" x2="157.40" y1="306.10" y2="309.60" stroke="#000" stroke-width="0.8"/>
<text x="157.40" y="321.10" font-size="11.66" text-anchor="middle" textLength="27.99" lengthAdjust="spacingAndGlyphs">1500</text>
<line x1="215.65" x2="215.65" y1="306.10" y2="309.60" stroke="#000" stroke-width="0.8"/>
<text x="215.65" y="321.10" font-size="11.66" text-anchor="middle" textLength="27.99" lengthAdjust="spacingAndGlyphs">2000</text>
<defs><clipPath id="cp21"><rect x="250.40" y="217.45" width="179.40" height="88.65"/></clipPath></defs>
<line x1="250.40" x2="429.80" y1="306.10" y2="306.10" stroke="#f0f0f0" stroke-width="0.8" stroke-dasharray="1.2,0.8"/>
<line x1="250.40" x2="429.80" y1="289.18" y2="289.18" stroke="#f0f0f0" stroke-width="0.8" stroke-dasharray="1.2,0.8"/>
<line x1="250.40" x2="429.80" y1="272.26" y2="272.26" stroke="#f0f0f0" stroke-width="0.8" stroke-dasharray="1.2,0.8"/>
<line x1="250.40" x2="429.80" y1="255.34" y2="255.34" stroke="#f0f0f0" stroke-width="0.8" stroke-dasharray="1.2,0.8"/>
<line x1="250.40" x2="429.80" y1="238.42" y2="238.42" stroke="#f0f0f0" stroke-width="0.8" stroke-dasharray="1.2,0.8"/>
<line x1="250.40" x2="429.80" y1="221.50" y2="221.50" stroke="#f0f0f0" stroke-width="0.8" stroke-dasharray="1.2,0.8"/>
<line x1="258.55" x2="258.55" y1="217.45" y2="306.10" stroke="#f0f0f0" stroke-width="0.8" stroke-dasharray="1.2,0.8"/>
<line x1="316.80" x2="316.80" y1="217.45" y2="306.10" stroke="#f0f0f0" stroke-width="0.8" stroke-dasharray="1.2,0.8"/>
<line x1="363.40" x2="363.40" y1="217.45" y2="306.10" stroke="#f0f0f0" stroke-width="0.8" stroke-dasharray="1.2,0.8"/>
<line x1="421.65" x2="421.65" y1="217.45" y2="306.10" stroke="#f0f0f0" stroke-width="0.8" stroke-dasharray="1.2,0.8"/>
<g clip-path="url(#cp21)">
<polyline fill="none" stroke="#ff7f0e" stroke-width="1.6" stroke-linejoin="round" stroke-linecap="square" points="258.2,239.8 259.0,241.5 259.7,242.7 260.7,243.7 261.7,243.8 262.7,244.3 263.6,244.2 264.6,244.3 265.6,243.9 266.6,243.7 267.5,243.7 268.5,243.2 269.5,243.2 270.5,242.4 271.4,242.1 272.4,242.3 273.4,241.6 274.4,241.5 275.3,241.6 276.3,241.0 277.3,240.5 278.2,241.1 279.2,240.7 280.2,240.7 281.2,240.5 282.1,241.3 283.1,241.2 284.1,241.0 285.1,240.0 286.0,239.6 287.0,239.1 288.0,238.5 289.0,238.0 289.9,238.1 290.9,238.0 291.9,237.8 292.9,237.6 293.8,237.7 294.8,237.1 295.8,237.0 296.8,237.1 297.7,237.5 298.7,236.7 299.7,236.5 300.6,236.3 301.6,236.1 302.6,236.2 303.6,237.4 304.5,238.5 305.5,238.8 306.5,238.9 307.5,238.8 308.4,238.8 309.4,239.3 310.4,239.0 311.4,238.4 312.3,237.8 313.3,238.1 314.3,237.6 315.3,237.3 316.2,236.2 317.2,236.8 318.2,237.6 319.2,237.6 320.1,238.3 321.1,237.9 322.1,239.1 323.1,238.5 324.0,239.3 325.0,239.4 326.0,240.7 326.9,241.0 327.9,241.8 328.9,242.0 329.9,242.6 330.8,242.5 331.8,243.4 332.8,243.3 333.8,243.1 334.7,243.9 335.7,243.5 336.8,243.3 337.9,243.0 338.9,243.3 340.0,243.0 341.0,243.1 341.9,242.6 342.9,241.2 343.9,240.5 344.9,240.7 345.8,240.0 346.8,240.1 347.8,240.1 348.8,239.7 349.7,240.0 350.7,240.6 351.7,240.3 352.7,240.4 353.6,241.2 354.6,241.4 355.6,241.7 356.6,241.5 357.5,241.2 358.5,241.5 359.5,241.7 360.5,241.0 361.4,240.1 362.4,239.7 363.4,239.3 364.4,239.4 365.3,238.9 366.3,238.7 367.3,238.7 368.2,238.3 369.2,239.0 370.2,239.0 371.2,239.4 372.1,240.1 373.1,239.9 374.1,241.0 375.1,240.5 376.0,241.1 377.0,241.2 378.0,241.0 379.0,241.4 379.9,240.9 380.9,240.5 381.9,240.4 382.9,239.3 383.8,239.2 384.8,239.1 385.8,237.9 386.8,238.2 387.7,237.3 388.7,237.6 389.7,236.9 390.6,237.0 391.6,236.8 392.6,236.3 393.6,236.8 394.5,236.4 395.5,236.5 396.5,236.2 397.5,236.1 398.4,235.9 399.4,235.6 400.4,236.1 401.4,235.2 402.3,235.9 403.3,236.1 404.3,236.0 405.3,236.5 406.2,236.6 407.2,236.6 408.2,236.2 409.2,236.3 410.1,236.3 411.1,236.4 412.1,237.2 413.1,236.7 414.0,236.9 415.0,237.1 416.0,237.6 416.9,237.3 417.9,237.5 418.9,237.4 419.9,237.7 420.8,237.7 421.8,238.4"/>
<polyline fill="none" stroke="#1f77b4" stroke-width="1.6" stroke-linejoin="round" stroke-linecap="square" points="258.2,257.9 259.7,247.2 262.7,237.0 265.6,234.5 269.5,230.6 275.3,230.0 281.2,229.6 286.0,229.2 290.9,226.1 295.8,222.8 298.7,221.5 331.8,221.5 335.7,223.4 340.0,224.8 343.9,227.3 349.7,230.0 355.6,231.6 361.4,233.1 367.3,232.0 373.1,230.6 376.0,231.6 379.0,234.5 381.9,236.5 385.8,236.5 388.7,234.5 391.6,230.6 394.5,226.7 398.4,222.8 402.3,221.5 421.8,221.5"/>
<polyline fill="none" stroke="#1c2a86" stroke-width="1.8" stroke-linejoin="round" stroke-linecap="round" stroke-dasharray="0.01,3.5" points="258.2,295.9 259.7,288.1 261.7,274.4 263.6,260.8 265.6,249.1 267.5,239.4 270.5,233.5 275.3,231.2 281.2,230.0 286.0,229.6 290.9,227.7 295.8,224.8 300.6,221.5 331.8,221.5 335.7,222.8 340.0,225.4 343.9,230.0 347.8,233.5 351.7,238.4 356.6,244.2 359.5,246.8 363.4,246.2 366.3,241.3 369.2,238.4 373.1,237.4 377.0,239.0 379.9,243.3 382.9,249.1 386.8,255.0 390.6,250.1 394.5,239.4 398.4,227.7 401.4,222.8 404.3,221.5 421.8,221.5"/>
<polyline fill="none" stroke="#ff0000" stroke-width="1.8" stroke-linejoin="round" stroke-linecap="round" stroke-dasharray="0.01,3.5" points="258.2,280.7 259.4,286.1 260.7,292.9 262.7,296.8 340.0,296.8 420.8,296.8"/>
</g>
<rect x="250.40" y="217.45" width="179.40" height="88.65" fill="none" stroke="#000" stroke-width="0.8"/>
<line x1="246.90" x2="250.40" y1="306.10" y2="306.10" stroke="#000" stroke-width="0.8"/>
<text x="243.80" y="310.90" font-size="11.66" text-anchor="end" textLength="7.00" lengthAdjust="spacingAndGlyphs">0</text>
<line x1="246.90" x2="250.40" y1="289.18" y2="289.18" stroke="#000" stroke-width="0.8"/>
<text x="243.80" y="293.98" font-size="11.66" text-anchor="end" textLength="7.00" lengthAdjust="spacingAndGlyphs">2</text>
<line x1="246.90" x2="250.40" y1="272.26" y2="272.26" stroke="#000" stroke-width="0.8"/>
<text x="243.80" y="277.06" font-size="11.66" text-anchor="end" textLength="7.00" lengthAdjust="spacingAndGlyphs">4</text>
<line x1="246.90" x2="250.40" y1="255.34" y2="255.34" stroke="#000" stroke-width="0.8"/>
<text x="243.80" y="260.14" font-size="11.66" text-anchor="end" textLength="7.00" lengthAdjust="spacingAndGlyphs">6</text>
<line x1="246.90" x2="250.40" y1="238.42" y2="238.42" stroke="#000" stroke-width="0.8"/>
<text x="243.80" y="243.22" font-size="11.66" text-anchor="end" textLength="7.00" lengthAdjust="spacingAndGlyphs">8</text>
<line x1="246.90" x2="250.40" y1="221.50" y2="221.50" stroke="#000" stroke-width="0.8"/>
<text x="243.80" y="226.30" font-size="11.66" text-anchor="end" textLength="14.00" lengthAdjust="spacingAndGlyphs">10</text>
<line x1="258.55" x2="258.55" y1="306.10" y2="309.60" stroke="#000" stroke-width="0.8"/>
<text x="258.55" y="321.10" font-size="11.66" text-anchor="middle" textLength="21.00" lengthAdjust="spacingAndGlyphs">600</text>
<line x1="316.80" x2="316.80" y1="306.10" y2="309.60" stroke="#000" stroke-width="0.8"/>
<text x="316.80" y="321.10" font-size="11.66" text-anchor="middle" textLength="27.99" lengthAdjust="spacingAndGlyphs">1100</text>
<line x1="363.40" x2="363.40" y1="306.10" y2="309.60" stroke="#000" stroke-width="0.8"/>
<text x="363.40" y="321.10" font-size="11.66" text-anchor="middle" textLength="27.99" lengthAdjust="spacingAndGlyphs">1500</text>
<line x1="421.65" x2="421.65" y1="306.10" y2="309.60" stroke="#000" stroke-width="0.8"/>
<text x="421.65" y="321.10" font-size="11.66" text-anchor="middle" textLength="27.99" lengthAdjust="spacingAndGlyphs">2000</text>
<defs><clipPath id="cp22"><rect x="456.50" y="217.45" width="179.30" height="88.65"/></clipPath></defs>
<line x1="456.50" x2="635.80" y1="284.70" y2="284.70" stroke="#f0f0f0" stroke-width="0.8" stroke-dasharray="1.2,0.8"/>
<line x1="456.50" x2="635.80" y1="261.30" y2="261.30" stroke="#f0f0f0" stroke-width="0.8" stroke-dasharray="1.2,0.8"/>
<line x1="456.50" x2="635.80" y1="237.90" y2="237.90" stroke="#f0f0f0" stroke-width="0.8" stroke-dasharray="1.2,0.8"/>
<line x1="464.65" x2="464.65" y1="217.45" y2="306.10" stroke="#f0f0f0" stroke-width="0.8" stroke-dasharray="1.2,0.8"/>
<line x1="511.22" x2="511.22" y1="217.45" y2="306.10" stroke="#f0f0f0" stroke-width="0.8" stroke-dasharray="1.2,0.8"/>
<line x1="569.44" x2="569.44" y1="217.45" y2="306.10" stroke="#f0f0f0" stroke-width="0.8" stroke-dasharray="1.2,0.8"/>
<line x1="627.65" x2="627.65" y1="217.45" y2="306.10" stroke="#f0f0f0" stroke-width="0.8" stroke-dasharray="1.2,0.8"/>
<g clip-path="url(#cp22)">
<polygon fill="rgba(255,127,14,0.2)" stroke="rgba(255,127,14,0.32)" stroke-width="1.0" points="464.2,229.6 465.4,229.3 466.7,229.8 467.9,229.4 469.1,230.5 470.4,229.7 471.6,230.3 472.9,231.0 474.1,230.0 475.4,230.7 476.6,230.1 477.9,229.6 479.1,229.6 480.4,229.3 481.6,228.8 482.9,229.6 484.1,228.5 485.3,229.3 486.5,229.0 487.6,227.6 488.8,227.9 490.0,228.1 491.2,228.6 492.3,227.5 493.5,228.1 494.7,227.6 495.8,228.1 497.0,228.3 498.2,227.9 499.4,226.9 500.6,227.7 501.9,227.1 503.1,227.6 504.3,226.9 505.6,227.5 506.8,227.5 508.0,227.2 509.1,228.2 510.1,229.3 511.2,230.0 512.2,230.4 513.5,232.1 514.7,231.8 515.9,231.5 517.1,232.7 518.3,233.1 519.5,233.3 520.7,235.0 521.9,234.0 523.1,235.5 524.3,235.3 525.5,235.0 526.7,235.6 527.9,236.1 529.1,235.9 530.3,236.8 531.5,236.6 532.7,237.0 533.9,236.7 535.2,236.6 536.4,236.8 537.6,236.6 538.8,235.8 540.0,235.4 541.2,235.0 542.4,235.2 543.6,235.0 544.8,234.5 546.0,234.2 547.2,232.6 548.4,232.9 549.6,232.1 550.8,232.5 552.0,232.2 553.2,231.9 554.4,232.0 555.6,230.8 556.8,231.5 558.0,231.1 559.1,230.3 560.3,231.4 561.5,229.7 562.6,230.2 563.8,230.2 565.0,230.1 566.2,230.6 567.3,229.7 568.5,230.1 569.7,229.1 570.8,229.4 572.0,228.9 573.2,229.7 574.4,229.3 575.5,229.9 576.7,228.8 577.9,229.4 579.0,230.2 580.2,228.7 581.4,229.7 582.6,229.8 583.7,229.7 584.9,229.3 586.1,229.1 587.2,229.7 588.4,228.5 589.6,229.1 590.8,228.9 591.9,228.9 593.1,228.4 594.3,227.5 595.5,228.6 596.6,227.7 597.8,228.5 599.0,228.8 600.2,228.4 601.4,227.7 602.7,228.4 603.9,227.6 605.1,227.5 606.3,227.9 607.5,227.9 608.7,228.0 609.9,227.7 611.1,227.4 612.3,227.9 613.5,227.2 614.7,227.7 615.8,226.8 617.0,227.1 618.2,228.3 619.4,227.3 620.5,227.6 621.7,227.1 622.9,228.3 624.0,227.6 625.2,227.2 626.4,227.7 627.6,228.1 627.6,289.0 626.4,289.3 625.2,289.8 624.0,289.6 622.9,288.6 621.7,290.1 620.5,289.4 619.4,288.9 618.2,290.3 617.0,289.7 615.8,290.0 614.7,289.4 613.5,290.2 612.2,290.5 611.0,290.1 609.8,290.3 608.5,290.2 607.2,290.5 606.0,290.7 604.8,289.9 603.5,291.1 602.2,289.9 601.0,290.3 599.8,291.1 598.5,290.5 597.2,290.4 596.0,291.1 594.8,290.8 593.5,291.2 592.2,292.3 591.0,291.6 589.8,291.9 588.7,291.4 587.5,292.4 586.3,292.5 585.1,292.3 584.0,291.5 582.8,292.3 581.6,291.2 580.5,292.4 579.3,291.4 578.1,291.4 576.9,291.6 575.7,292.8 574.5,292.5 573.3,291.9 572.1,293.1 570.9,292.9 569.7,292.3 568.5,293.2 567.4,293.0 566.2,294.1 565.1,294.1 564.0,294.6 562.9,295.0 561.6,294.2 560.4,294.9 559.1,294.2 557.9,294.3 556.6,294.9 555.4,295.9 554.1,295.7 552.9,294.8 551.6,295.8 550.4,294.9 549.1,295.9 547.9,295.7 546.6,296.4 545.4,296.2 544.1,296.4 542.9,296.2 541.6,295.6 540.4,296.6 539.1,296.8 537.9,296.1 536.6,296.8 535.4,296.9 534.1,297.1 532.9,295.9 531.6,296.9 530.4,297.0 529.1,296.7 527.9,296.4 526.6,296.6 525.4,296.1 524.1,296.5 522.9,295.7 521.6,295.7 520.4,295.6 519.1,295.6 517.9,296.0 516.8,295.3 515.6,294.6 514.5,292.7 513.4,291.9 512.2,291.7 511.2,291.0 510.1,290.2 509.1,289.0 508.0,287.1 506.9,287.3 505.7,287.9 504.5,288.8 503.3,289.2 502.2,288.9 501.0,289.9 499.8,290.7 498.5,290.6 497.2,290.7 496.0,291.5 494.8,291.6 493.5,291.8 492.2,292.0 491.0,291.5 489.8,292.3 488.5,291.6 487.2,291.6 486.0,291.6 484.8,291.5 483.5,291.5 482.2,292.2 481.0,291.8 479.8,292.8 478.5,292.4 477.4,292.2 476.2,292.7 475.1,293.6 474.0,292.4 472.9,293.6 471.6,293.1 470.4,294.2 469.1,293.7 467.9,294.3 466.7,293.5 465.4,295.2 464.2,294.7"/>
<polygon fill="rgba(31,119,180,0.2)" stroke="rgba(31,119,180,0.3)" stroke-width="1.0" points="464.2,234.7 465.5,232.0 466.9,229.5 467.9,228.0 469.0,227.2 470.0,226.5 471.5,224.9 472.9,224.1 474.1,224.0 475.4,224.1 476.6,223.0 477.9,223.1 479.1,224.0 480.4,223.6 481.6,222.9 482.9,223.4 484.1,222.6 485.3,222.8 486.5,222.8 487.6,222.5 488.8,222.4 490.0,222.8 491.2,222.9 492.3,222.5 493.5,222.8 494.7,223.2 495.8,222.0 497.0,222.2 498.2,221.9 499.4,222.6 500.5,222.2 501.7,222.2 502.9,221.9 504.0,222.5 505.2,222.5 506.4,222.0 507.6,222.5 508.7,221.7 509.9,221.8 511.1,222.5 512.2,221.5 513.4,221.4 514.6,221.3 515.8,222.1 516.9,222.3 518.1,221.3 519.3,221.8 520.5,221.8 521.6,221.7 522.8,221.6 524.0,221.7 525.1,221.4 526.3,222.4 527.5,221.7 528.7,222.2 529.9,222.5 531.1,222.7 532.3,222.6 533.5,222.9 534.8,223.5 535.9,222.9 537.0,223.3 538.1,223.8 539.2,224.6 540.4,224.6 541.6,224.6 542.9,224.2 544.1,224.2 545.4,224.9 546.6,224.4 547.9,224.6 549.1,224.4 550.4,224.5 551.6,224.3 552.9,225.1 554.1,224.6 555.4,224.4 556.6,224.0 557.9,224.6 559.1,224.2 560.4,223.6 561.6,223.6 562.9,224.4 564.1,223.5 565.4,223.5 566.6,223.1 567.9,223.9 569.1,223.1 570.4,223.4 571.6,223.5 572.9,223.1 574.1,222.9 575.4,222.8 576.6,223.4 577.9,223.0 579.1,223.5 580.4,224.0 581.6,224.1 582.9,223.9 584.1,223.9 585.4,223.4 586.6,224.4 587.9,224.6 589.1,224.1 590.4,223.9 591.6,224.7 592.9,224.7 594.1,225.4 595.4,225.4 596.6,225.2 597.9,225.0 599.1,224.7 600.4,224.7 601.6,224.4 602.9,224.2 604.1,223.4 605.4,223.9 606.6,222.7 607.9,222.7 609.1,223.2 610.4,222.6 611.6,223.4 612.9,223.2 614.1,223.3 615.4,223.1 616.6,223.5 617.9,223.8 619.1,223.3 620.3,223.8 621.5,223.6 622.7,222.7 623.9,222.3 625.2,222.2 626.4,221.6 627.6,221.0 627.6,299.4 626.4,299.8 625.2,299.9 623.9,300.2 622.7,301.2 621.5,301.2 620.3,300.8 619.1,302.2 617.9,301.6 616.6,301.1 615.4,301.1 614.1,301.4 612.9,301.4 611.6,300.8 610.4,300.7 609.1,301.0 607.9,300.9 606.6,300.9 605.4,301.2 604.1,300.2 602.9,300.5 601.6,299.6 600.4,300.3 599.1,299.8 597.9,299.1 596.6,299.1 595.4,299.9 594.1,299.3 592.9,299.5 591.6,300.1 590.4,299.5 589.1,299.6 587.9,300.2 586.6,300.4 585.4,299.9 584.2,299.6 583.0,299.5 581.8,299.2 580.6,300.0 579.3,298.8 578.1,299.3 576.9,299.3 575.7,299.0 574.5,298.1 573.3,298.0 572.1,297.6 570.9,296.6 569.7,296.4 568.5,296.3 567.3,296.7 566.1,297.4 564.9,297.9 563.7,297.8 562.5,298.5 561.3,298.5 560.1,299.5 558.9,299.9 557.7,299.6 556.5,299.5 555.4,299.3 554.2,299.7 553.0,299.7 551.9,300.1 550.7,300.5 549.5,300.4 548.3,300.5 547.2,300.5 546.0,300.0 544.8,300.1 543.6,300.3 542.4,300.6 541.2,301.2 540.0,300.4 538.8,300.8 537.6,300.7 536.4,301.1 535.2,300.7 533.9,300.8 532.7,301.7 531.5,301.3 530.3,301.3 529.1,302.1 527.9,302.1 526.6,302.0 525.4,300.9 524.1,301.3 522.9,301.8 521.6,301.2 520.4,301.1 519.1,301.0 517.9,300.8 516.8,300.8 515.6,299.9 514.5,300.3 513.4,299.5 512.2,300.0 511.1,299.4 509.9,299.2 508.7,299.4 507.6,299.6 506.4,298.7 505.2,298.4 504.0,299.1 502.9,299.2 501.7,298.0 500.5,298.2 499.4,298.1 498.2,297.7 497.0,298.3 495.8,299.0 494.7,298.5 493.5,298.4 492.3,298.5 491.2,299.5 490.0,298.5 488.8,298.8 487.6,299.7 486.5,299.3 485.3,299.4 484.1,299.6 482.9,299.4 481.6,299.9 480.4,298.7 479.1,299.5 477.9,299.6 476.6,299.6 475.4,298.9 474.1,299.0 472.9,298.8 471.5,298.0 470.2,297.9 468.9,296.6 467.6,295.1 466.3,292.9 465.3,289.9 464.2,285.5"/>
<polyline fill="none" stroke="rgba(255,255,255,0.35)" stroke-width="3.0" stroke-linejoin="round" stroke-linecap="butt" stroke-dasharray="1.7,0.5" points="464.2,258.5 465.1,258.0 465.9,258.5 466.8,257.7 467.7,258.1 468.7,258.0 469.6,257.8 470.6,257.3 471.6,257.2 472.6,257.0 473.5,256.7 474.5,256.0 475.5,255.4 476.5,254.6 477.4,253.9 478.4,253.5 479.4,252.6 480.4,252.2 481.3,251.8 482.3,251.3 483.3,250.3 484.2,250.2 485.2,250.3 486.2,249.9 487.2,249.8 488.1,248.6 489.1,248.1 490.1,247.8 491.1,247.4 492.0,246.3 493.0,246.2 494.0,245.3 495.0,244.7 495.9,244.7 496.9,243.7 497.9,244.0 498.9,243.1 499.8,243.1 500.8,242.8 501.8,243.0 502.8,243.2 503.7,242.4 504.7,242.3 505.7,242.0 506.6,241.6 507.6,241.0 508.6,241.0 509.6,240.3 510.5,241.9 511.5,243.7 512.5,244.9 513.5,248.1 514.4,250.7 515.4,252.8 516.4,256.5 517.4,259.7 518.3,262.6 519.3,265.8 520.3,268.9 521.3,272.4 522.2,274.3 523.2,276.1 524.2,277.9 525.2,278.7 526.1,279.0 527.1,279.8 528.1,280.7 529.1,280.6 530.0,280.2 531.0,280.2 532.0,280.7 532.9,280.5 533.9,280.5 534.9,280.2 535.9,280.2 536.8,280.0 537.8,279.4 538.8,278.9 539.8,278.0 540.7,277.2 541.7,275.5 542.7,274.3 543.8,274.1 544.9,274.2 546.0,273.4 547.0,272.9 547.9,271.8 548.9,271.6 549.9,270.3 550.9,270.4 551.8,270.4 552.8,270.2 553.8,269.9 554.8,269.9 555.7,269.2 556.7,269.3 557.7,268.4 558.7,267.7 559.6,266.8 560.6,266.7 561.6,266.5 562.6,266.0 563.5,265.4 564.5,265.2 565.5,265.4 566.5,264.8 567.4,265.0 568.4,265.1 569.4,264.6 570.4,265.0 571.3,264.7 572.3,264.3 573.3,263.0 574.2,262.5 575.2,261.7 576.2,260.9 577.2,260.2 578.1,259.5 579.1,258.7 580.1,258.3 581.1,257.2 582.0,256.6 583.0,256.8 584.0,256.3 585.0,255.6 585.9,255.9 586.9,255.5 587.9,255.0 588.9,254.7 589.8,253.8 590.8,253.8 591.8,253.0 592.8,252.9 593.7,252.7 594.7,252.0 595.7,251.6 596.6,251.5 597.6,251.2 598.6,250.7 599.6,249.5 600.5,248.8 601.5,248.2 602.5,246.8 603.5,247.0 604.4,247.4 605.4,247.1 606.4,246.7 607.4,246.6 608.3,246.8 609.3,246.6 610.3,246.1 611.3,246.0 612.2,246.1 613.2,245.6 614.2,245.3 615.2,244.4 616.1,244.2 617.1,243.4 618.1,243.6 619.1,242.8 620.0,242.4 621.0,242.0 622.0,241.0 622.9,243.2 623.9,244.7 624.9,245.9 625.7,247.8 626.6,249.1 627.4,250.1"/>
<polyline fill="none" stroke="#ff0000" stroke-width="1.6" stroke-linejoin="round" stroke-linecap="butt" stroke-dasharray="1.3,0.9" points="464.2,258.5 465.1,258.0 465.9,258.5 466.8,257.7 467.7,258.1 468.7,258.0 469.6,257.8 470.6,257.3 471.6,257.2 472.6,257.0 473.5,256.7 474.5,256.0 475.5,255.4 476.5,254.6 477.4,253.9 478.4,253.5 479.4,252.6 480.4,252.2 481.3,251.8 482.3,251.3 483.3,250.3 484.2,250.2 485.2,250.3 486.2,249.9 487.2,249.8 488.1,248.6 489.1,248.1 490.1,247.8 491.1,247.4 492.0,246.3 493.0,246.2 494.0,245.3 495.0,244.7 495.9,244.7 496.9,243.7 497.9,244.0 498.9,243.1 499.8,243.1 500.8,242.8 501.8,243.0 502.8,243.2 503.7,242.4 504.7,242.3 505.7,242.0 506.6,241.6 507.6,241.0 508.6,241.0 509.6,240.3 510.5,241.9 511.5,243.7 512.5,244.9 513.5,248.1 514.4,250.7 515.4,252.8 516.4,256.5 517.4,259.7 518.3,262.6 519.3,265.8 520.3,268.9 521.3,272.4 522.2,274.3 523.2,276.1 524.2,277.9 525.2,278.7 526.1,279.0 527.1,279.8 528.1,280.7 529.1,280.6 530.0,280.2 531.0,280.2 532.0,280.7 532.9,280.5 533.9,280.5 534.9,280.2 535.9,280.2 536.8,280.0 537.8,279.4 538.8,278.9 539.8,278.0 540.7,277.2 541.7,275.5 542.7,274.3 543.8,274.1 544.9,274.2 546.0,273.4 547.0,272.9 547.9,271.8 548.9,271.6 549.9,270.3 550.9,270.4 551.8,270.4 552.8,270.2 553.8,269.9 554.8,269.9 555.7,269.2 556.7,269.3 557.7,268.4 558.7,267.7 559.6,266.8 560.6,266.7 561.6,266.5 562.6,266.0 563.5,265.4 564.5,265.2 565.5,265.4 566.5,264.8 567.4,265.0 568.4,265.1 569.4,264.6 570.4,265.0 571.3,264.7 572.3,264.3 573.3,263.0 574.2,262.5 575.2,261.7 576.2,260.9 577.2,260.2 578.1,259.5 579.1,258.7 580.1,258.3 581.1,257.2 582.0,256.6 583.0,256.8 584.0,256.3 585.0,255.6 585.9,255.9 586.9,255.5 587.9,255.0 588.9,254.7 589.8,253.8 590.8,253.8 591.8,253.0 592.8,252.9 593.7,252.7 594.7,252.0 595.7,251.6 596.6,251.5 597.6,251.2 598.6,250.7 599.6,249.5 600.5,248.8 601.5,248.2 602.5,246.8 603.5,247.0 604.4,247.4 605.4,247.1 606.4,246.7 607.4,246.6 608.3,246.8 609.3,246.6 610.3,246.1 611.3,246.0 612.2,246.1 613.2,245.6 614.2,245.3 615.2,244.4 616.1,244.2 617.1,243.4 618.1,243.6 619.1,242.8 620.0,242.4 621.0,242.0 622.0,241.0 622.9,243.2 623.9,244.7 624.9,245.9 625.7,247.8 626.6,249.1 627.4,250.1"/>
</g>
<rect x="456.50" y="217.45" width="179.30" height="88.65" fill="none" stroke="#000" stroke-width="0.8"/>
<line x1="453.00" x2="456.50" y1="284.70" y2="284.70" stroke="#000" stroke-width="0.8"/>
<text x="449.90" y="289.50" font-size="11.66" text-anchor="end" textLength="17.49" lengthAdjust="spacingAndGlyphs">0.5</text>
<line x1="453.00" x2="456.50" y1="261.30" y2="261.30" stroke="#000" stroke-width="0.8"/>
<text x="449.90" y="266.10" font-size="11.66" text-anchor="end" textLength="17.49" lengthAdjust="spacingAndGlyphs">1.0</text>
<line x1="453.00" x2="456.50" y1="237.90" y2="237.90" stroke="#000" stroke-width="0.8"/>
<text x="449.90" y="242.70" font-size="11.66" text-anchor="end" textLength="17.49" lengthAdjust="spacingAndGlyphs">1.5</text>
<line x1="464.65" x2="464.65" y1="306.10" y2="309.60" stroke="#000" stroke-width="0.8"/>
<text x="464.65" y="321.10" font-size="11.66" text-anchor="middle" textLength="21.00" lengthAdjust="spacingAndGlyphs">600</text>
<line x1="511.22" x2="511.22" y1="306.10" y2="309.60" stroke="#000" stroke-width="0.8"/>
<text x="511.22" y="321.10" font-size="11.66" text-anchor="middle" textLength="27.99" lengthAdjust="spacingAndGlyphs">1000</text>
<line x1="569.44" x2="569.44" y1="306.10" y2="309.60" stroke="#000" stroke-width="0.8"/>
<text x="569.44" y="321.10" font-size="11.66" text-anchor="middle" textLength="27.99" lengthAdjust="spacingAndGlyphs">1500</text>
<line x1="627.65" x2="627.65" y1="306.10" y2="309.60" stroke="#000" stroke-width="0.8"/>
<text x="627.65" y="321.10" font-size="11.66" text-anchor="middle" textLength="27.99" lengthAdjust="spacingAndGlyphs">2000</text>
<defs><clipPath id="cp30"><rect x="44.40" y="334.05" width="179.40" height="88.25"/></clipPath></defs>
<line x1="44.40" x2="223.80" y1="417.60" y2="417.60" stroke="#f0f0f0" stroke-width="0.8" stroke-dasharray="1.2,0.8"/>
<line x1="44.40" x2="223.80" y1="379.84" y2="379.84" stroke="#f0f0f0" stroke-width="0.8" stroke-dasharray="1.2,0.8"/>
<line x1="44.40" x2="223.80" y1="342.07" y2="342.07" stroke="#f0f0f0" stroke-width="0.8" stroke-dasharray="1.2,0.8"/>
<line x1="52.55" x2="52.55" y1="334.05" y2="422.30" stroke="#f0f0f0" stroke-width="0.8" stroke-dasharray="1.2,0.8"/>
<line x1="106.92" x2="106.92" y1="334.05" y2="422.30" stroke="#f0f0f0" stroke-width="0.8" stroke-dasharray="1.2,0.8"/>
<line x1="161.28" x2="161.28" y1="334.05" y2="422.30" stroke="#f0f0f0" stroke-width="0.8" stroke-dasharray="1.2,0.8"/>
<line x1="215.65" x2="215.65" y1="334.05" y2="422.30" stroke="#f0f0f0" stroke-width="0.8" stroke-dasharray="1.2,0.8"/>
<g clip-path="url(#cp30)">
<polyline fill="none" stroke="#ff7f0e" stroke-width="1.3" stroke-linejoin="round" stroke-linecap="square" points="52.2,357.4 55.7,341.8 73.2,341.8 73.4,345.1 73.9,341.8 95.4,341.8 95.6,337.3 96.1,341.8 112.0,341.8 112.0,341.8 112.1,345.1 112.8,345.1 112.9,341.8 113.9,341.8 114.0,345.1 114.4,345.1 114.5,341.8 115.8,341.8 115.9,345.1 116.3,345.1 116.4,341.8 117.1,341.8 117.2,337.3 118.3,337.3 118.4,341.8 119.7,341.8 119.8,345.1 120.5,345.1 120.6,341.8 121.6,341.8 121.7,345.1 122.1,345.1 122.2,341.8 123.5,341.8 123.6,345.1 124.0,345.1 124.1,341.8 124.8,341.8 124.9,337.3 125.3,337.3 125.4,341.8 126.4,341.8 126.5,345.1 126.9,345.1 127.0,341.8 128.3,341.8 128.4,337.3 128.8,337.3 128.9,341.8 130.2,341.8 130.3,345.1 131.0,345.1 131.1,341.8 135.4,341.8 135.5,337.3 135.9,337.3 136.0,341.8 137.0,341.8 137.1,337.3 137.5,337.3 137.6,341.8 139.0,341.8 139.1,345.1 139.5,345.1 139.6,341.8 140.6,341.8 140.7,345.1 141.4,345.1 141.5,341.8 142.2,341.8 142.3,337.3 143.4,337.3 143.5,341.8 144.5,341.8 144.6,337.3 145.0,337.3 145.1,341.8 146.8,341.8 146.9,345.1 147.3,345.1 147.4,341.8 148.1,341.8 148.2,337.3 149.3,337.3 149.4,341.8 150.7,341.8 150.8,345.1 151.9,345.1 152.0,341.8 152.7,341.8 152.8,337.3 153.5,337.3 153.6,341.8 155.3,341.8 155.4,345.1 156.5,345.1 156.6,341.8 158.3,341.8 158.4,337.3 159.5,337.3 159.6,341.8 160.9,341.8 161.0,337.3 161.4,337.3 161.5,341.8 162.2,341.8 162.3,337.3 163.4,337.3 163.5,341.8 165.5,341.8 165.6,337.3 166.7,337.3 166.8,341.8 168.1,341.8 168.2,345.1 168.9,345.1 169.0,341.8 170.3,341.8 170.4,345.1 171.1,345.1 171.2,341.8 172.5,341.8 172.6,337.3 173.7,337.3 173.8,341.8 174.5,341.8 174.6,337.3 175.7,337.3 175.8,341.8 178.5,341.8 178.6,345.1 179.3,345.1 179.4,341.8 180.7,341.8 180.8,337.3 181.2,337.3 181.3,341.8 182.0,341.8 182.1,337.3 183.2,337.3 183.3,341.8 184.6,341.8 184.7,337.3 185.8,337.3 185.9,341.8 186.9,341.8 187.0,337.3 188.1,337.3 188.2,341.8 188.9,341.8 189.0,337.3 190.1,337.3 190.2,341.8 191.5,341.8 191.6,337.3 192.0,337.3 192.1,341.8 193.4,341.8 193.5,337.3 194.2,337.3 194.3,341.8 195.0,341.8 195.1,337.3 195.8,337.3 195.9,341.8 197.2,341.8 197.3,337.3 198.0,337.3 198.1,341.8 199.8,341.8 199.9,345.1 201.0,345.1 201.1,341.8 201.8,341.8 201.9,345.1 202.6,345.1 202.7,341.8 204.4,341.8 204.5,345.1 205.2,345.1 205.3,341.8 207.0,341.8 207.1,337.3 207.8,337.3 207.9,341.8 209.2,341.8 209.3,337.3 210.4,337.3 210.5,341.8 212.8,341.8 212.9,345.1 213.3,345.1 213.4,341.8 215.5,341.8"/>
<polyline fill="none" stroke="#1f77b4" stroke-width="1.6" stroke-linejoin="round" stroke-linecap="square" points="52.2,417.7 95.6,417.7 95.6,413.3 113.2,413.3 113.2,417.7 125.8,417.7 125.8,413.3 134.0,413.3 143.4,413.3 143.4,417.7 151.5,417.7 151.5,413.3 158.4,413.3 158.4,409.9 163.2,409.9 163.2,402.2 170.0,402.2 170.0,399.2 173.0,399.2 173.0,395.3 175.9,395.3 175.9,399.2 179.8,399.2 180.4,395.3 180.8,399.2 182.7,399.2 182.7,402.2 184.3,402.2 184.3,398.3 187.6,398.3 187.6,402.2 190.5,402.2 190.5,409.9 199.3,409.9 199.3,413.3 201.2,413.3 201.2,417.7 211.9,417.7 211.9,413.3 214.8,413.3"/>
</g>
<rect x="44.40" y="334.05" width="179.40" height="88.25" fill="none" stroke="#000" stroke-width="0.8"/>
<line x1="40.90" x2="44.40" y1="417.60" y2="417.60" stroke="#000" stroke-width="0.8"/>
<text x="37.80" y="422.40" font-size="11.66" text-anchor="end" textLength="17.49" lengthAdjust="spacingAndGlyphs">0.0</text>
<line x1="40.90" x2="44.40" y1="379.84" y2="379.84" stroke="#000" stroke-width="0.8"/>
<text x="37.80" y="384.64" font-size="11.66" text-anchor="end" textLength="17.49" lengthAdjust="spacingAndGlyphs">0.1</text>
<line x1="40.90" x2="44.40" y1="342.07" y2="342.07" stroke="#000" stroke-width="0.8"/>
<text x="37.80" y="346.87" font-size="11.66" text-anchor="end" textLength="17.49" lengthAdjust="spacingAndGlyphs">0.2</text>
<line x1="52.55" x2="52.55" y1="422.30" y2="425.80" stroke="#000" stroke-width="0.8"/>
<text x="52.55" y="437.30" font-size="11.66" text-anchor="middle" textLength="27.99" lengthAdjust="spacingAndGlyphs">1100</text>
<line x1="106.92" x2="106.92" y1="422.30" y2="425.80" stroke="#000" stroke-width="0.8"/>
<text x="106.92" y="437.30" font-size="11.66" text-anchor="middle" textLength="27.99" lengthAdjust="spacingAndGlyphs">1400</text>
<line x1="161.28" x2="161.28" y1="422.30" y2="425.80" stroke="#000" stroke-width="0.8"/>
<text x="161.28" y="437.30" font-size="11.66" text-anchor="middle" textLength="27.99" lengthAdjust="spacingAndGlyphs">1700</text>
<line x1="215.65" x2="215.65" y1="422.30" y2="425.80" stroke="#000" stroke-width="0.8"/>
<text x="215.65" y="437.30" font-size="11.66" text-anchor="middle" textLength="27.99" lengthAdjust="spacingAndGlyphs">2000</text>
<defs><clipPath id="cp31"><rect x="250.40" y="334.05" width="179.40" height="88.25"/></clipPath></defs>
<line x1="250.40" x2="429.80" y1="422.30" y2="422.30" stroke="#f0f0f0" stroke-width="0.8" stroke-dasharray="1.2,0.8"/>
<line x1="250.40" x2="429.80" y1="405.36" y2="405.36" stroke="#f0f0f0" stroke-width="0.8" stroke-dasharray="1.2,0.8"/>
<line x1="250.40" x2="429.80" y1="388.42" y2="388.42" stroke="#f0f0f0" stroke-width="0.8" stroke-dasharray="1.2,0.8"/>
<line x1="250.40" x2="429.80" y1="371.48" y2="371.48" stroke="#f0f0f0" stroke-width="0.8" stroke-dasharray="1.2,0.8"/>
<line x1="250.40" x2="429.80" y1="354.54" y2="354.54" stroke="#f0f0f0" stroke-width="0.8" stroke-dasharray="1.2,0.8"/>
<line x1="250.40" x2="429.80" y1="337.60" y2="337.60" stroke="#f0f0f0" stroke-width="0.8" stroke-dasharray="1.2,0.8"/>
<line x1="258.55" x2="258.55" y1="334.05" y2="422.30" stroke="#f0f0f0" stroke-width="0.8" stroke-dasharray="1.2,0.8"/>
<line x1="312.92" x2="312.92" y1="334.05" y2="422.30" stroke="#f0f0f0" stroke-width="0.8" stroke-dasharray="1.2,0.8"/>
<line x1="367.28" x2="367.28" y1="334.05" y2="422.30" stroke="#f0f0f0" stroke-width="0.8" stroke-dasharray="1.2,0.8"/>
<line x1="421.65" x2="421.65" y1="334.05" y2="422.30" stroke="#f0f0f0" stroke-width="0.8" stroke-dasharray="1.2,0.8"/>
<g clip-path="url(#cp31)">
<polyline fill="none" stroke="#ff7f0e" stroke-width="1.6" stroke-linejoin="round" stroke-linecap="square" points="258.2,349.6 260.7,350.9 263.6,351.5 269.5,350.9 278.2,350.9 281.2,352.1 289.0,352.5 298.7,352.5 302.6,352.1 308.4,352.5 316.2,353.5 320.1,355.4 324.0,358.3 327.9,361.2 331.8,365.1 334.7,368.5 336.7,368.1 340.0,372.0 343.9,374.3 347.8,376.8 352.7,372.0 355.6,374.9 359.5,373.9 363.4,375.9 367.3,378.8 370.2,380.7 373.1,376.8 377.0,373.9 380.9,370.0 384.8,364.2 388.3,358.3 390.6,361.2 394.5,361.2 398.4,362.2 402.3,364.2 405.3,368.1 410.1,367.7 413.1,369.0 416.0,372.9 418.9,373.9 421.8,373.9"/>
<polyline fill="none" stroke="#1f77b4" stroke-width="1.6" stroke-linejoin="round" stroke-linecap="square" points="258.2,337.3 302.6,337.3 308.4,338.5 316.2,340.4 324.0,341.2 331.8,342.7 340.0,343.7 347.8,345.1 355.6,345.7 363.4,347.0 371.2,348.6 379.0,348.2 384.8,345.7 390.6,344.3 397.5,343.7 402.3,345.1 410.1,345.7 416.0,346.6 421.8,346.6"/>
<polyline fill="none" stroke="#000000" stroke-width="1.8" stroke-linejoin="round" stroke-linecap="round" stroke-dasharray="0.01,3.5" points="258.2,337.3 302.6,337.3 306.5,339.8 312.3,342.7 318.2,344.7 324.0,345.7 340.0,345.7 340.0,345.1 347.8,347.0 355.6,348.6 363.4,351.5 371.2,354.4 380.9,354.0 386.8,351.5 392.6,348.6 398.4,346.2 404.3,348.6 410.1,350.9 416.0,352.9 421.8,353.5"/>
<polyline fill="none" stroke="#ff0000" stroke-width="1.8" stroke-linejoin="round" stroke-linecap="round" stroke-dasharray="0.01,3.5" points="258.2,394.9 259.7,401.2 261.7,409.0 263.2,412.9 340.0,412.9 420.8,412.9"/>
</g>
<rect x="250.40" y="334.05" width="179.40" height="88.25" fill="none" stroke="#000" stroke-width="0.8"/>
<line x1="246.90" x2="250.40" y1="422.30" y2="422.30" stroke="#000" stroke-width="0.8"/>
<text x="243.80" y="427.10" font-size="11.66" text-anchor="end" textLength="7.00" lengthAdjust="spacingAndGlyphs">0</text>
<line x1="246.90" x2="250.40" y1="405.36" y2="405.36" stroke="#000" stroke-width="0.8"/>
<text x="243.80" y="410.16" font-size="11.66" text-anchor="end" textLength="7.00" lengthAdjust="spacingAndGlyphs">2</text>
<line x1="246.90" x2="250.40" y1="388.42" y2="388.42" stroke="#000" stroke-width="0.8"/>
<text x="243.80" y="393.22" font-size="11.66" text-anchor="end" textLength="7.00" lengthAdjust="spacingAndGlyphs">4</text>
<line x1="246.90" x2="250.40" y1="371.48" y2="371.48" stroke="#000" stroke-width="0.8"/>
<text x="243.80" y="376.28" font-size="11.66" text-anchor="end" textLength="7.00" lengthAdjust="spacingAndGlyphs">6</text>
<line x1="246.90" x2="250.40" y1="354.54" y2="354.54" stroke="#000" stroke-width="0.8"/>
<text x="243.80" y="359.34" font-size="11.66" text-anchor="end" textLength="7.00" lengthAdjust="spacingAndGlyphs">8</text>
<line x1="246.90" x2="250.40" y1="337.60" y2="337.60" stroke="#000" stroke-width="0.8"/>
<text x="243.80" y="342.40" font-size="11.66" text-anchor="end" textLength="14.00" lengthAdjust="spacingAndGlyphs">10</text>
<line x1="258.55" x2="258.55" y1="422.30" y2="425.80" stroke="#000" stroke-width="0.8"/>
<text x="258.55" y="437.30" font-size="11.66" text-anchor="middle" textLength="27.99" lengthAdjust="spacingAndGlyphs">1100</text>
<line x1="312.92" x2="312.92" y1="422.30" y2="425.80" stroke="#000" stroke-width="0.8"/>
<text x="312.92" y="437.30" font-size="11.66" text-anchor="middle" textLength="27.99" lengthAdjust="spacingAndGlyphs">1400</text>
<line x1="367.28" x2="367.28" y1="422.30" y2="425.80" stroke="#000" stroke-width="0.8"/>
<text x="367.28" y="437.30" font-size="11.66" text-anchor="middle" textLength="27.99" lengthAdjust="spacingAndGlyphs">1700</text>
<line x1="421.65" x2="421.65" y1="422.30" y2="425.80" stroke="#000" stroke-width="0.8"/>
<text x="421.65" y="437.30" font-size="11.66" text-anchor="middle" textLength="27.99" lengthAdjust="spacingAndGlyphs">2000</text>
<defs><clipPath id="cp32"><rect x="456.50" y="334.05" width="179.30" height="88.25"/></clipPath></defs>
<line x1="456.50" x2="635.80" y1="387.50" y2="387.50" stroke="#f0f0f0" stroke-width="0.8" stroke-dasharray="1.2,0.8"/>
<line x1="456.50" x2="635.80" y1="350.10" y2="350.10" stroke="#f0f0f0" stroke-width="0.8" stroke-dasharray="1.2,0.8"/>
<line x1="464.65" x2="464.65" y1="334.05" y2="422.30" stroke="#f0f0f0" stroke-width="0.8" stroke-dasharray="1.2,0.8"/>
<line x1="518.98" x2="518.98" y1="334.05" y2="422.30" stroke="#f0f0f0" stroke-width="0.8" stroke-dasharray="1.2,0.8"/>
<line x1="573.32" x2="573.32" y1="334.05" y2="422.30" stroke="#f0f0f0" stroke-width="0.8" stroke-dasharray="1.2,0.8"/>
<line x1="627.65" x2="627.65" y1="334.05" y2="422.30" stroke="#f0f0f0" stroke-width="0.8" stroke-dasharray="1.2,0.8"/>
<g clip-path="url(#cp32)">
<polygon fill="#c2daee" stroke="#c2daee" stroke-width="2.6" points="464.2,371.0 465.2,374.8 466.2,374.9 467.2,372.0 468.2,372.1 469.2,377.0 470.2,377.0 471.2,379.8 472.2,384.3 473.2,386.9 474.2,391.4 475.2,391.3 476.2,390.4 477.2,390.3 478.2,388.4 479.2,392.3 480.2,388.9 481.2,387.1 482.2,389.3 483.2,387.6 484.2,387.8 485.2,386.8 486.2,385.1 487.2,389.0 488.2,385.2 489.2,384.2 490.2,381.2 491.2,379.4 492.2,379.5 493.2,378.4 494.2,377.7 495.2,380.6 496.2,377.0 497.2,375.1 498.2,378.4 499.2,377.1 500.2,376.4 501.2,372.1 502.2,371.7 503.2,376.2 504.2,373.1 505.2,375.7 506.2,374.2 507.2,376.9 508.2,379.1 509.2,377.8 510.2,373.0 511.2,373.0 512.2,377.4 513.2,375.6 514.2,368.5 515.2,367.7 516.2,358.7 517.2,350.6 518.2,345.4 519.2,344.4 520.2,345.9 521.2,344.9 522.2,345.6 523.2,339.6 524.2,338.2 525.2,337.1 526.2,340.5 527.2,344.9 528.2,341.0 529.2,340.9 530.2,342.9 531.2,339.9 532.2,346.7 533.2,348.2 534.2,347.3 535.2,347.3 536.2,352.1 537.2,353.4 538.2,351.2 539.2,351.5 540.2,354.8 541.2,358.0 542.2,360.9 543.2,364.8 544.2,368.2 545.2,370.5 546.2,371.5 547.2,363.0 548.2,363.8 549.2,365.3 550.2,365.6 551.2,360.6 552.2,359.1 553.2,358.5 554.2,362.5 555.2,369.6 556.2,376.4 557.2,376.6 558.2,375.8 559.2,372.5 560.2,366.8 561.2,365.9 562.2,362.5 563.2,357.6 564.2,353.2 565.2,351.6 566.2,354.9 567.2,363.2 568.2,368.5 569.2,371.2 570.2,374.1 571.2,372.8 572.2,368.0 573.2,368.8 574.2,363.4 575.2,355.4 576.2,352.6 577.2,352.7 578.2,352.9 579.2,357.8 580.2,365.6 581.2,366.5 582.2,369.7 583.2,374.1 584.2,373.9 585.2,373.1 586.2,371.6 587.2,374.1 588.2,372.7 589.2,376.0 590.2,371.5 591.2,372.2 592.2,375.6 593.2,377.3 594.2,382.6 595.2,385.8 596.2,391.0 597.2,389.9 598.2,386.4 599.2,382.6 600.2,381.3 601.2,375.1 602.2,372.9 603.2,370.5 604.2,369.6 605.2,367.2 606.2,372.0 607.2,369.9 608.2,371.5 609.2,369.8 610.2,367.9 611.2,363.1 612.2,353.7 613.2,352.9 614.2,347.1 615.2,348.9 616.2,349.5 617.2,357.5 618.2,360.8 619.2,366.5 620.2,372.8 621.2,374.6 622.2,372.2 623.2,374.6 624.2,372.6 625.2,370.0 626.2,373.4 627.2,378.3 627.4,377.9 627.4,393.5 627.2,394.6 626.2,392.9 625.2,388.4 624.2,388.0 623.2,388.1 622.2,384.2 621.2,387.5 620.2,387.1 619.2,382.4 618.2,378.2 617.2,376.4 616.2,369.9 615.2,369.9 614.2,368.5 613.2,373.9 612.2,374.0 611.2,379.9 610.2,381.5 609.2,382.4 608.2,383.4 607.2,383.3 606.2,387.2 605.2,384.8 604.2,388.7 603.2,388.1 602.2,389.6 601.2,392.3 600.2,399.0 599.2,400.8 598.2,404.9 597.2,408.4 596.2,409.2 595.2,403.6 594.2,400.4 593.2,395.6 592.2,395.0 591.2,393.1 590.2,390.1 589.2,390.2 588.2,387.0 587.2,390.9 586.2,390.2 585.2,393.2 584.2,392.4 583.2,390.1 582.2,386.1 581.2,383.9 580.2,384.4 579.2,378.2 578.2,374.8 577.2,376.0 576.2,373.0 575.2,373.0 574.2,380.4 573.2,385.3 572.2,384.6 571.2,389.5 570.2,391.8 569.2,389.3 568.2,384.7 567.2,378.9 566.2,375.2 565.2,375.0 564.2,376.6 563.2,381.3 562.2,387.3 561.2,390.8 560.2,390.7 559.2,395.0 558.2,396.3 557.2,394.0 556.2,389.9 555.2,383.5 554.2,380.4 553.2,377.1 552.2,376.2 551.2,375.5 550.2,378.0 549.2,381.3 548.2,385.7 547.2,384.9 546.2,391.4 545.2,390.8 544.2,389.5 543.2,385.5 542.2,379.5 541.2,377.8 540.2,379.0 539.2,378.2 538.2,376.1 537.2,374.5 536.2,375.0 535.2,374.8 534.2,373.9 533.2,375.1 532.2,378.9 531.2,375.5 530.2,378.6 529.2,375.1 528.2,371.6 527.2,369.7 526.2,363.5 525.2,364.8 524.2,367.0 523.2,365.8 522.2,368.3 521.2,364.3 520.2,365.1 519.2,364.7 518.2,364.6 517.2,370.2 516.2,373.5 515.2,380.7 514.2,385.4 513.2,396.1 512.2,398.8 511.2,397.4 510.2,397.8 509.2,398.6 508.2,398.8 507.2,399.6 506.2,397.2 505.2,395.7 504.2,392.7 503.2,397.7 502.2,394.4 501.2,395.3 500.2,399.1 499.2,398.8 498.2,399.5 497.2,395.7 496.2,398.2 495.2,402.8 494.2,398.1 493.2,396.4 492.2,399.9 491.2,403.3 490.2,403.4 489.2,403.9 488.2,405.6 487.2,410.4 486.2,410.0 485.2,414.8 484.2,410.3 483.2,405.4 482.2,410.1 481.2,410.2 480.2,410.0 479.2,412.5 478.2,412.1 477.2,415.9 476.2,412.9 475.2,412.8 474.2,416.4 473.2,414.3 472.2,412.3 471.2,408.1 470.2,405.3 469.2,405.3 468.2,400.3 467.2,397.5 466.2,394.9 465.2,396.5 464.2,400.2"/>
<polygon fill="#d9b799" stroke="#d0ae8e" stroke-width="0.6" points="464.2,371.0 465.2,374.8 466.2,374.9 467.2,372.0 468.2,372.1 469.2,377.0 470.2,377.0 471.2,379.8 472.2,384.3 473.2,386.9 474.2,391.4 475.2,391.3 476.2,390.4 477.2,390.3 478.2,388.4 479.2,392.3 480.2,388.9 481.2,387.1 482.2,389.3 483.2,387.6 484.2,387.8 485.2,386.8 486.2,385.1 487.2,389.0 488.2,385.2 489.2,384.2 490.2,381.2 491.2,379.4 492.2,379.5 493.2,378.4 494.2,377.7 495.2,380.6 496.2,377.0 497.2,375.1 498.2,378.4 499.2,377.1 500.2,376.4 501.2,372.1 502.2,371.7 503.2,376.2 504.2,373.1 505.2,375.7 506.2,374.2 507.2,376.9 508.2,379.1 509.2,377.8 510.2,373.0 511.2,373.0 512.2,377.4 513.2,375.6 514.2,368.5 515.2,367.7 516.2,358.7 517.2,350.6 518.2,345.4 519.2,344.4 520.2,345.9 521.2,344.9 522.2,345.6 523.2,339.6 524.2,338.2 525.2,337.1 526.2,340.5 527.2,344.9 528.2,341.0 529.2,340.9 530.2,342.9 531.2,339.9 532.2,346.7 533.2,348.2 534.2,347.3 535.2,347.3 536.2,352.1 537.2,353.4 538.2,351.2 539.2,351.5 540.2,354.8 541.2,358.0 542.2,360.9 543.2,364.8 544.2,368.2 545.2,370.5 546.2,371.5 547.2,363.0 548.2,363.8 549.2,365.3 550.2,365.6 551.2,360.6 552.2,359.1 553.2,358.5 554.2,362.5 555.2,369.6 556.2,376.4 557.2,376.6 558.2,375.8 559.2,372.5 560.2,366.8 561.2,365.9 562.2,362.5 563.2,357.6 564.2,353.2 565.2,351.6 566.2,354.9 567.2,363.2 568.2,368.5 569.2,371.2 570.2,374.1 571.2,372.8 572.2,368.0 573.2,368.8 574.2,363.4 575.2,355.4 576.2,352.6 577.2,352.7 578.2,352.9 579.2,357.8 580.2,365.6 581.2,366.5 582.2,369.7 583.2,374.1 584.2,373.9 585.2,373.1 586.2,371.6 587.2,374.1 588.2,372.7 589.2,376.0 590.2,371.5 591.2,372.2 592.2,375.6 593.2,377.3 594.2,382.6 595.2,385.8 596.2,391.0 597.2,389.9 598.2,386.4 599.2,382.6 600.2,381.3 601.2,375.1 602.2,372.9 603.2,370.5 604.2,369.6 605.2,367.2 606.2,372.0 607.2,369.9 608.2,371.5 609.2,369.8 610.2,367.9 611.2,363.1 612.2,353.7 613.2,352.9 614.2,347.1 615.2,348.9 616.2,349.5 617.2,357.5 618.2,360.8 619.2,366.5 620.2,372.8 621.2,374.6 622.2,372.2 623.2,374.6 624.2,372.6 625.2,370.0 626.2,373.4 627.2,378.3 627.4,377.9 627.4,393.5 627.2,394.6 626.2,392.9 625.2,388.4 624.2,388.0 623.2,388.1 622.2,384.2 621.2,387.5 620.2,387.1 619.2,382.4 618.2,378.2 617.2,376.4 616.2,369.9 615.2,369.9 614.2,368.5 613.2,373.9 612.2,374.0 611.2,379.9 610.2,381.5 609.2,382.4 608.2,383.4 607.2,383.3 606.2,387.2 605.2,384.8 604.2,388.7 603.2,388.1 602.2,389.6 601.2,392.3 600.2,399.0 599.2,400.8 598.2,404.9 597.2,408.4 596.2,409.2 595.2,403.6 594.2,400.4 593.2,395.6 592.2,395.0 591.2,393.1 590.2,390.1 589.2,390.2 588.2,387.0 587.2,390.9 586.2,390.2 585.2,393.2 584.2,392.4 583.2,390.1 582.2,386.1 581.2,383.9 580.2,384.4 579.2,378.2 578.2,374.8 577.2,376.0 576.2,373.0 575.2,373.0 574.2,380.4 573.2,385.3 572.2,384.6 571.2,389.5 570.2,391.8 569.2,389.3 568.2,384.7 567.2,378.9 566.2,375.2 565.2,375.0 564.2,376.6 563.2,381.3 562.2,387.3 561.2,390.8 560.2,390.7 559.2,395.0 558.2,396.3 557.2,394.0 556.2,389.9 555.2,383.5 554.2,380.4 553.2,377.1 552.2,376.2 551.2,375.5 550.2,378.0 549.2,381.3 548.2,385.7 547.2,384.9 546.2,391.4 545.2,390.8 544.2,389.5 543.2,385.5 542.2,379.5 541.2,377.8 540.2,379.0 539.2,378.2 538.2,376.1 537.2,374.5 536.2,375.0 535.2,374.8 534.2,373.9 533.2,375.1 532.2,378.9 531.2,375.5 530.2,378.6 529.2,375.1 528.2,371.6 527.2,369.7 526.2,363.5 525.2,364.8 524.2,367.0 523.2,365.8 522.2,368.3 521.2,364.3 520.2,365.1 519.2,364.7 518.2,364.6 517.2,370.2 516.2,373.5 515.2,380.7 514.2,385.4 513.2,396.1 512.2,398.8 511.2,397.4 510.2,397.8 509.2,398.6 508.2,398.8 507.2,399.6 506.2,397.2 505.2,395.7 504.2,392.7 503.2,397.7 502.2,394.4 501.2,395.3 500.2,399.1 499.2,398.8 498.2,399.5 497.2,395.7 496.2,398.2 495.2,402.8 494.2,398.1 493.2,396.4 492.2,399.9 491.2,403.3 490.2,403.4 489.2,403.9 488.2,405.6 487.2,410.4 486.2,410.0 485.2,414.8 484.2,410.3 483.2,405.4 482.2,410.1 481.2,410.2 480.2,410.0 479.2,412.5 478.2,412.1 477.2,415.9 476.2,412.9 475.2,412.8 474.2,416.4 473.2,414.3 472.2,412.3 471.2,408.1 470.2,405.3 469.2,405.3 468.2,400.3 467.2,397.5 466.2,394.9 465.2,396.5 464.2,400.2"/>
<polyline fill="none" stroke="rgba(255,255,255,0.25)" stroke-width="2.8" stroke-linejoin="round" stroke-linecap="butt" stroke-dasharray="1.6,1.6" points="464.2,384.3 465.2,385.9 466.2,386.5 467.2,388.3 468.2,389.2 469.2,387.8 470.2,386.7 471.2,390.1 472.2,395.5 473.2,399.4 474.2,405.6 475.2,402.2 476.2,401.2 477.2,402.2 478.2,402.6 479.2,402.2 480.2,398.5 481.2,401.6 482.2,403.8 483.2,399.8 484.2,398.0 485.2,396.4 486.2,395.7 487.2,394.3 488.2,392.4 489.2,394.6 490.2,395.7 491.2,393.4 492.2,389.5 493.2,390.9 494.2,384.6 495.2,387.2 496.2,385.8 497.2,386.9 498.2,390.3 499.2,385.3 500.2,389.3 501.2,387.4 502.2,382.6 503.2,388.1 504.2,386.1 505.2,385.6 506.2,383.5 507.2,384.1 508.2,384.7 509.2,384.5 510.2,377.9 511.2,378.6 512.2,380.5 513.2,380.0 514.2,377.2 515.2,372.8 516.2,367.4 517.2,364.8 518.2,361.0 519.2,358.8 520.2,356.0 521.2,357.6 522.2,355.7 523.2,353.0 524.2,353.9 525.2,351.7 526.2,354.7 527.2,352.6 528.2,354.0 529.2,357.6 530.2,357.7 531.2,358.6 532.2,357.5 533.2,360.8 534.2,364.4 535.2,364.0 536.2,363.8 537.2,360.3 538.2,365.5 539.2,369.3 540.2,371.2 541.2,374.0 542.2,370.7 543.2,378.2 544.2,381.1 545.2,383.4 546.2,379.5 547.2,374.2 548.2,379.3 549.2,374.5 550.2,368.5 551.2,372.6 552.2,372.2 553.2,371.1 554.2,374.7 555.2,377.9 556.2,380.8 557.2,379.7 558.2,383.9 559.2,385.3 560.2,378.1 561.2,377.9 562.2,374.7 563.2,373.2 564.2,371.5 565.2,367.2 566.2,359.4 567.2,365.7 568.2,372.1 569.2,370.6 570.2,381.6 571.2,376.6 572.2,374.4 573.2,377.2 574.2,374.2 575.2,363.1 576.2,364.6 577.2,367.7 578.2,366.2 579.2,369.7 580.2,372.1 581.2,373.4 582.2,375.7 583.2,381.9 584.2,383.4 585.2,383.4 586.2,386.6 587.2,386.2 588.2,382.7 589.2,381.9 590.2,380.2 591.2,384.7 592.2,384.8 593.2,388.2 594.2,394.1 595.2,395.0 596.2,399.6 597.2,399.2 598.2,400.3 599.2,390.7 600.2,393.6 601.2,385.7 602.2,383.5 603.2,383.2 604.2,377.7 605.2,380.6 606.2,377.7 607.2,376.9 608.2,379.2 609.2,380.4 610.2,373.8 611.2,374.2 612.2,372.9 613.2,364.0 614.2,360.0 615.2,357.4 616.2,360.2 617.2,361.8 618.2,364.5 619.2,365.0 620.2,371.9 621.2,381.0 622.2,375.0 623.2,379.2 624.2,384.6 625.2,379.5 626.2,385.2 627.2,385.8 627.4,382.1"/>
<polyline fill="none" stroke="#ff0000" stroke-width="1.7" stroke-linejoin="round" stroke-linecap="butt" stroke-dasharray="1.6,1.6" points="464.2,384.3 465.2,385.9 466.2,386.5 467.2,388.3 468.2,389.2 469.2,387.8 470.2,386.7 471.2,390.1 472.2,395.5 473.2,399.4 474.2,405.6 475.2,402.2 476.2,401.2 477.2,402.2 478.2,402.6 479.2,402.2 480.2,398.5 481.2,401.6 482.2,403.8 483.2,399.8 484.2,398.0 485.2,396.4 486.2,395.7 487.2,394.3 488.2,392.4 489.2,394.6 490.2,395.7 491.2,393.4 492.2,389.5 493.2,390.9 494.2,384.6 495.2,387.2 496.2,385.8 497.2,386.9 498.2,390.3 499.2,385.3 500.2,389.3 501.2,387.4 502.2,382.6 503.2,388.1 504.2,386.1 505.2,385.6 506.2,383.5 507.2,384.1 508.2,384.7 509.2,384.5 510.2,377.9 511.2,378.6 512.2,380.5 513.2,380.0 514.2,377.2 515.2,372.8 516.2,367.4 517.2,364.8 518.2,361.0 519.2,358.8 520.2,356.0 521.2,357.6 522.2,355.7 523.2,353.0 524.2,353.9 525.2,351.7 526.2,354.7 527.2,352.6 528.2,354.0 529.2,357.6 530.2,357.7 531.2,358.6 532.2,357.5 533.2,360.8 534.2,364.4 535.2,364.0 536.2,363.8 537.2,360.3 538.2,365.5 539.2,369.3 540.2,371.2 541.2,374.0 542.2,370.7 543.2,378.2 544.2,381.1 545.2,383.4 546.2,379.5 547.2,374.2 548.2,379.3 549.2,374.5 550.2,368.5 551.2,372.6 552.2,372.2 553.2,371.1 554.2,374.7 555.2,377.9 556.2,380.8 557.2,379.7 558.2,383.9 559.2,385.3 560.2,378.1 561.2,377.9 562.2,374.7 563.2,373.2 564.2,371.5 565.2,367.2 566.2,359.4 567.2,365.7 568.2,372.1 569.2,370.6 570.2,381.6 571.2,376.6 572.2,374.4 573.2,377.2 574.2,374.2 575.2,363.1 576.2,364.6 577.2,367.7 578.2,366.2 579.2,369.7 580.2,372.1 581.2,373.4 582.2,375.7 583.2,381.9 584.2,383.4 585.2,383.4 586.2,386.6 587.2,386.2 588.2,382.7 589.2,381.9 590.2,380.2 591.2,384.7 592.2,384.8 593.2,388.2 594.2,394.1 595.2,395.0 596.2,399.6 597.2,399.2 598.2,400.3 599.2,390.7 600.2,393.6 601.2,385.7 602.2,383.5 603.2,383.2 604.2,377.7 605.2,380.6 606.2,377.7 607.2,376.9 608.2,379.2 609.2,380.4 610.2,373.8 611.2,374.2 612.2,372.9 613.2,364.0 614.2,360.0 615.2,357.4 616.2,360.2 617.2,361.8 618.2,364.5 619.2,365.0 620.2,371.9 621.2,381.0 622.2,375.0 623.2,379.2 624.2,384.6 625.2,379.5 626.2,385.2 627.2,385.8 627.4,382.1"/>
</g>
<rect x="456.50" y="334.05" width="179.30" height="88.25" fill="none" stroke="#000" stroke-width="0.8"/>
<line x1="453.00" x2="456.50" y1="387.50" y2="387.50" stroke="#000" stroke-width="0.8"/>
<text x="449.90" y="392.30" font-size="11.66" text-anchor="end" textLength="17.49" lengthAdjust="spacingAndGlyphs">1.0</text>
<line x1="453.00" x2="456.50" y1="350.10" y2="350.10" stroke="#000" stroke-width="0.8"/>
<text x="449.90" y="354.90" font-size="11.66" text-anchor="end" textLength="17.49" lengthAdjust="spacingAndGlyphs">1.5</text>
<line x1="464.65" x2="464.65" y1="422.30" y2="425.80" stroke="#000" stroke-width="0.8"/>
<text x="464.65" y="437.30" font-size="11.66" text-anchor="middle" textLength="27.99" lengthAdjust="spacingAndGlyphs">1100</text>
<line x1="518.98" x2="518.98" y1="422.30" y2="425.80" stroke="#000" stroke-width="0.8"/>
<text x="518.98" y="437.30" font-size="11.66" text-anchor="middle" textLength="27.99" lengthAdjust="spacingAndGlyphs">1400</text>
<line x1="573.32" x2="573.32" y1="422.30" y2="425.80" stroke="#000" stroke-width="0.8"/>
<text x="573.32" y="437.30" font-size="11.66" text-anchor="middle" textLength="27.99" lengthAdjust="spacingAndGlyphs">1700</text>
<line x1="627.65" x2="627.65" y1="422.30" y2="425.80" stroke="#000" stroke-width="0.8"/>
<text x="627.65" y="437.30" font-size="11.66" text-anchor="middle" textLength="27.99" lengthAdjust="spacingAndGlyphs">2000</text>
<text x="134.10" y="9.70" font-size="14.09" text-anchor="middle" textLength="118.86" lengthAdjust="spacingAndGlyphs">Miscoverage Rate</text>
<text x="340.10" y="9.70" font-size="14.09" text-anchor="middle" textLength="72.10" lengthAdjust="spacingAndGlyphs">Cardinality</text>
<text x="546.15" y="9.70" font-size="14.09" text-anchor="middle" textLength="159.91" lengthAdjust="spacingAndGlyphs">Model Evaluation Metric</text>
<text x="-0.40" y="62.67" font-size="13.35" text-anchor="start" textLength="17.55" lengthAdjust="spacingAndGlyphs">(a)</text>
<text x="-0.40" y="163.65" font-size="13.35" text-anchor="start" textLength="17.83" lengthAdjust="spacingAndGlyphs">(b)</text>
<text x="-0.40" y="265.07" font-size="13.35" text-anchor="start" textLength="16.76" lengthAdjust="spacingAndGlyphs">(c)</text>
<text x="-0.40" y="381.48" font-size="13.35" text-anchor="start" textLength="17.83" lengthAdjust="spacingAndGlyphs">(d)</text>
<line x1="109.50" x2="135.30" y1="454.50" y2="454.50" stroke="#ff7f0e" stroke-width="1.4"/>
<text x="144.90" y="460.00" font-size="13.25" text-anchor="start" textLength="26.26" lengthAdjust="spacingAndGlyphs">MPS</text>
<line x1="194.80" x2="220.30" y1="454.50" y2="454.50" stroke="#1f77b4" stroke-width="1.4"/>
<text x="230.50" y="460.00" font-size="13.25" text-anchor="start" textLength="27.45" lengthAdjust="spacingAndGlyphs">MCS</text>
<line x1="282.40" x2="307.50" y1="454.50" y2="454.50" stroke="#ff0000" stroke-width="1.8" stroke-dasharray="0.01,3.5" stroke-linecap="round"/>
<text x="316.50" y="460.00" font-size="13.25" text-anchor="start" textLength="132.53" lengthAdjust="spacingAndGlyphs">MPS-W (Quality Sets)</text>
<line x1="472.60" x2="497.60" y1="454.50" y2="454.50" stroke="#000000" stroke-width="1.8" stroke-dasharray="0.01,3.5" stroke-linecap="round"/>
<text x="507.10" y="460.00" font-size="13.25" text-anchor="start" textLength="44.32" lengthAdjust="spacingAndGlyphs">MCS-W</text>
</svg></body></html>
